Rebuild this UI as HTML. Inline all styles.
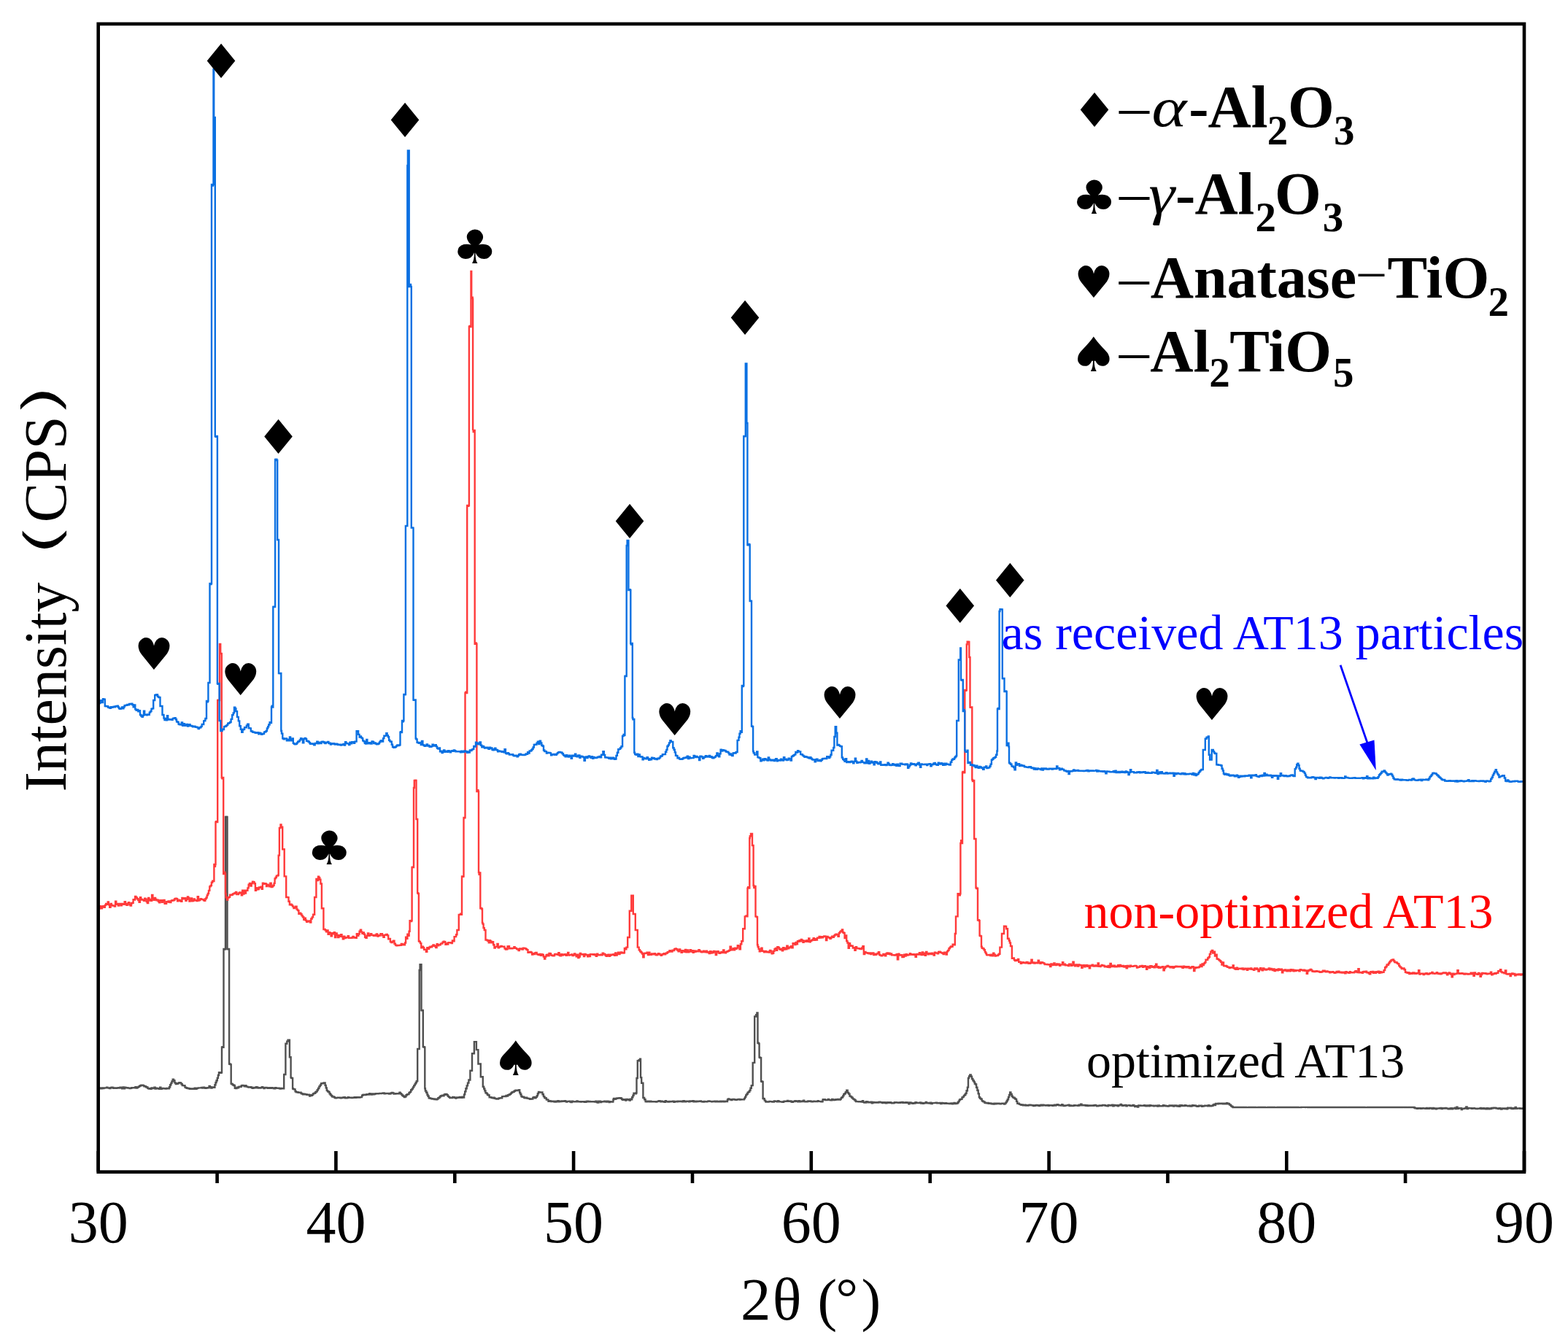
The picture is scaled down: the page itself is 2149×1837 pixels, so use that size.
<!DOCTYPE html>
<html><head><meta charset="utf-8"><title>XRD patterns of AT13</title>
<style>
html,body{margin:0;padding:0;background:#fff;}
svg{display:block;}
.sym{font-family:'DejaVu Sans',sans-serif;fill:#000;}
.t{font-family:'Liberation Serif','Times New Roman',serif;}
</style></head><body>
<svg width="2149" height="1837" viewBox="0 0 2149 1837">
<rect x="0" y="0" width="2149" height="1837" fill="#fff"/>

<path d="M135.0,1491.5L136.3,1491.5H137.0V1492.0H137.6H138.3V1492.3H138.9H139.6V1491.4H140.2H140.9V1492.0H141.6H142.2V1491.5H142.9H143.5V1491.4H144.2L145.5,1491.3H146.1V1490.8H146.8H147.4V1491.4H148.1H148.8V1491.5H149.4H150.1V1492.1H150.7H151.4V1491.3H152.0H152.7V1490.7H153.3H154.0V1490.9H154.7H155.3V1491.9H156.0H156.6V1491.6H157.3H157.9V1491.4H158.6H159.2V1491.9H159.9H160.5V1491.4H161.2H161.9V1491.1H162.5H163.2V1491.5H163.8H164.5V1490.8H165.1H165.8V1491.1H166.4H167.1V1492.3H167.8H168.4V1490.5H169.1H169.7V1492.2H170.4H171.0V1490.7H171.7H172.3V1491.4H173.0H173.6V1491.2H174.3H175.0V1491.5H175.6H176.3V1491.6H176.9H177.6V1492.1H178.2H178.9V1491.9H179.5H180.2V1491.3H180.9H181.5V1491.1H182.2H182.8V1491.1H183.5H184.1V1491.2H184.8H185.4V1490.3H186.1H186.7V1491.6H187.4H188.1V1490.9H188.8H189.4V1489.9H190.1H190.8V1489.0H191.5H192.2V1488.2H192.8H193.5V1487.8H194.2H194.8V1487.7H195.5H196.1V1488.1H196.7H197.4V1489.3H198.0L199.2,1489.3H199.9V1490.2H200.5H201.1V1490.5H201.8H202.4V1491.9H203.0H203.7V1492.6H204.3H204.9V1492.2H205.6H206.2V1492.7H206.9H207.5V1491.5H208.2H208.8V1492.0H209.5L210.8,1492.0H211.4V1490.7H212.0H212.7V1492.6H213.3H214.0V1491.8H214.6H215.3V1492.4H215.9H216.6V1492.2H217.2H217.9V1492.7H218.5H219.1V1490.8H219.8H220.4V1492.8H221.1H221.7V1492.4H222.4H223.0V1492.0H223.7H224.3V1492.2H224.9H225.6V1492.1H226.2H226.9V1492.5H227.5H228.2V1491.9H228.8H229.5V1492.0H230.1H230.8V1492.3H231.4H232.0V1490.3H232.6H233.2V1487.3H233.8H234.4V1484.9H234.9H235.5V1482.5H236.1H236.7V1479.7H237.3H238.0V1481.2H238.7H239.4V1484.4H240.1H240.8V1486.1H241.5H242.1V1485.7H242.8H243.4V1485.3H244.1H244.7V1484.5H245.3H246.0V1484.1H246.6H247.2V1484.6H247.9H248.5V1486.2H249.1H249.8V1488.0H250.4H251.0V1488.1H251.6H252.3V1488.3H252.9H253.5V1490.6H254.2H254.8V1491.2H255.4H256.1V1491.8H256.7H257.4V1492.0H258.0H258.7V1492.3H259.4H260.0V1492.8H260.7H261.4V1492.5H262.1H262.7V1492.8H263.4H264.1V1492.5H264.7H265.4V1492.9H266.1H266.7V1491.7H267.4H268.0V1492.7H268.7H269.4V1492.0H270.0H270.7V1491.6H271.4H272.0V1491.4H272.7H273.3V1491.4H274.0L275.3,1491.4H276.0V1490.9H276.7H277.3V1491.6H278.0H278.6V1490.7H279.3H280.0V1491.2H280.6H281.3V1491.9H282.0H282.6V1491.6H283.3H284.0V1491.1H284.6H285.3V1491.4H285.9H286.6V1489.0H287.3H287.9V1490.2H288.6H289.3V1491.6H289.9H290.6V1490.6H291.2H291.9V1490.5H292.6H293.2V1490.8H293.9H294.4V1487.2H295.0H295.5V1484.0H296.1H296.6V1481.3H297.2H297.8V1477.9H298.3H298.9V1474.0H299.5H300.0V1470.2H300.6H301.2V1470.6H301.7H302.3V1470.7H302.9H303.4V1470.4H304.0L304.0,1435.7H304.6V1435.2H305.2H305.9V1435.7H306.5L306.5,1301.0H307.1V1301.5H307.8H308.4V1301.0H309.0L309.0,1120.0H309.6V1119.7H310.2H310.9V1120.0H311.5L311.5,1301.0H312.1V1301.3H312.8H313.5V1301.0H314.1L314.1,1458.5H314.8V1458.8H315.4H316.0V1459.4H316.7L316.7,1485.6H317.4V1486.0H318.1H318.8V1487.2H319.5H320.2V1488.0H320.9H321.8V1491.9H322.6H323.2V1492.1H323.9H324.5V1490.6H325.1H325.8V1491.3H326.4H327.0V1490.0H327.6H328.3V1489.7H328.9L330.2,1489.7H330.8V1488.2H331.4H332.1V1488.0H332.7H333.4V1488.4H334.1H334.8V1489.2H335.5H336.2V1488.2H336.9H337.5V1489.6H338.2H338.9V1489.9H339.6H340.3V1490.6H341.0H341.7V1490.6H342.3H343.0V1490.1H343.6H344.3V1490.8H344.9H345.6V1491.9H346.3H346.9V1491.5H347.6H348.2V1490.9H348.9H349.6V1491.4H350.2H350.9V1490.2H351.5H352.2V1490.8H352.9H353.5V1491.6H354.2H354.8V1491.1H355.5H356.1V1491.5H356.8H357.5V1491.1H358.1H358.8V1490.3H359.4H360.1V1490.9H360.8H361.4V1492.1H362.1H362.7V1491.1H363.4H364.0V1491.0H364.7H365.4V1491.3H366.0H366.7V1491.8H367.3H368.0V1491.9H368.6H369.3V1491.2H370.0H370.6V1491.7H371.3H371.9V1491.1H372.6H373.3V1491.4H373.9H374.6V1492.1H375.2H375.9V1492.3H376.5H377.2V1491.2H377.9H378.5V1491.8H379.2H379.8V1491.6H380.5H381.2V1491.8H381.8H382.5V1492.0H383.1H383.8V1492.5H384.4H385.1V1491.9H385.8H386.4V1492.1H387.1H387.7V1492.3H388.4H389.2V1473.0H390.1H391.4V1430.7H392.7H393.3V1427.6H393.9H394.6V1425.6H395.2H396.9V1449.3H398.6L398.6,1477.1H399.2V1477.9H399.9H400.5V1478.0H401.1L401.1,1492.3H401.8V1493.0H402.5H403.2V1493.4H403.9H404.6V1496.3H405.3H406.0V1497.4H406.6H407.3V1497.1H407.9H408.6V1497.8H409.3H409.9V1497.7H410.6H411.2V1497.6H411.9H412.6V1499.0H413.2H413.9V1499.5H414.6H415.2V1500.2H415.9H416.5V1499.6H417.2H417.8V1500.4H418.5H419.1V1500.1H419.7H420.4V1500.8H421.0H421.6V1500.9H422.2H422.9V1500.7H423.5H424.1V1502.6H424.8H425.4V1501.3H426.0H426.7V1501.7H427.3H428.0V1500.6H428.6H429.3V1499.1H430.0H430.6V1498.7H431.3H432.0V1497.5H432.7H433.3V1496.4H434.0H434.7V1494.3H435.4H436.0V1492.0H436.7H437.4V1489.4H438.1H438.8V1487.5H439.4H440.1V1485.3H440.8H441.5V1485.4H442.2H442.9V1484.8H443.6H444.3V1484.4H445.0H445.6V1487.9H446.1H446.7V1491.4H447.3H447.8V1494.9H448.4H449.0V1496.2H449.7H450.3V1497.0H450.9H451.6V1499.3H452.2H452.8V1500.8H453.5H454.1V1502.3H454.7H455.4V1503.5H456.0L457.1,1503.5H457.7V1504.0H458.3H458.8V1505.1H459.4H460.0V1505.4H460.7H461.3V1504.9H462.0H462.6V1504.8H463.3H463.9V1504.6H464.5H465.2V1504.8H465.8H466.5V1505.2H467.1H467.8V1505.1H468.4H469.1V1504.8H469.7H470.3V1504.5H471.0H471.6V1504.3H472.3H472.9V1505.2H473.6L474.9,1505.2H475.5V1505.0H476.1H476.8V1504.2H477.4H478.1V1504.7H478.7L480.0,1504.7L481.3,1504.7H481.9V1505.1H482.6H483.2V1504.8H483.8H484.5V1504.9H485.1H485.7V1504.2H486.4H487.0V1504.9H487.6H488.3V1504.3H488.9H489.6V1504.1H490.2H490.8V1504.5H491.5H492.1V1504.6H492.8H493.4V1504.1H494.0L495.3,1504.1H496.0V1501.7H496.6H497.2V1501.0H497.9H498.5V1500.7H499.2H499.8V1501.1H500.4H501.1V1500.9H501.7H502.3V1500.2H503.0H503.6V1500.1H504.2H504.9V1500.6H505.5H506.1V1499.3H506.8H507.4V1499.9H508.0H508.7V1500.5H509.3H509.9V1499.4H510.6H511.2V1500.2H511.8H512.5V1500.0H513.1H513.7V1499.5H514.4H515.0V1499.3H515.6H516.3V1499.1H516.9H517.5V1499.4H518.2H518.8V1499.1H519.4H520.1V1499.0H520.7H521.4V1499.1H522.0H522.7V1498.9H523.3H524.0V1498.7H524.6H525.3V1498.4H525.9H526.6V1499.4H527.2H527.9V1498.9H528.5H529.2V1499.0H529.8H530.5V1498.9H531.1H531.8V1499.0H532.4H533.1V1499.6H533.7H534.4V1499.2H535.0H535.7V1498.5H536.4H537.0V1498.0H537.7H538.3V1498.5H539.0H539.6V1499.6H540.3L541.6,1499.5H542.2V1499.1H542.9H543.5V1499.4H544.2H544.8V1499.4H545.5H546.1V1499.2H546.8H547.4V1497.7H548.1H548.7V1499.3H549.4H550.0V1500.4H550.7H551.3V1501.8H552.0H552.6V1502.7H553.2H553.9V1504.1H554.5H555.2V1503.2H555.8H556.5V1501.2H557.2H557.9V1500.2H558.5H559.2V1500.1H559.9H560.5V1498.0H561.2H561.9V1496.9H562.6H563.2V1494.2H563.9H564.6V1492.6H565.3H566.0V1490.4H566.6H567.3V1488.1H568.0H568.6V1486.1H569.1H569.7V1484.2H570.3H570.8V1482.2H571.4H571.8V1482.0H572.2L572.2,1438.0H572.8V1438.1H573.5H574.1V1438.0H574.7L574.7,1330.0H575.6V1322.3H576.5L577.5,1322.3L577.5,1385.0H578.1V1385.2H578.6H579.2V1385.0H579.8L579.8,1435.0H580.4V1435.2H581.0H581.7V1435.7H582.3L582.3,1492.3H582.9V1495.5H583.6H584.2V1497.7H584.9H585.5V1500.8H586.0H586.5V1502.8H587.1H587.7V1505.2H588.2H588.8V1505.5H589.5H590.1V1505.9H590.8H591.4V1506.2H592.0H592.7V1506.5H593.3L594.6,1506.5H595.2V1507.1H595.9H596.5V1506.8H597.1H597.8V1507.4H598.4H599.1V1506.6H599.7H600.4V1505.2H601.1H601.8V1504.5H602.4H603.1V1503.0H603.8H604.4V1502.3H605.1H605.8V1501.8H606.5H607.1V1502.3H607.8H608.5V1500.8H609.2H609.9V1500.0H610.5H611.2V1500.0H611.9H612.5V1501.1H613.2H613.8V1502.9H614.5H615.1V1503.9H615.7H616.4V1505.0H617.0H617.7V1504.9H618.3H619.0V1505.1H619.6H620.3V1504.0H621.0H621.6V1504.1H622.3H622.9V1504.9H623.6H624.3V1505.6H624.9H625.6V1504.5H626.2H626.9V1504.8H627.6H628.2V1504.7H628.9H629.6V1504.0H630.2H630.9V1504.3H631.5H632.2V1504.8H632.9H633.5V1503.8H634.2H634.8V1504.6H635.5H636.1V1500.4H636.7H637.2V1496.4H637.8H638.4V1492.2H639.0H639.7V1488.4H640.4H641.0V1484.6H641.7H642.4V1480.5H643.1H644.4V1467.8H645.7H647.0V1444.2H648.2H649.9V1428.1H651.6H652.9V1439.1H654.1H655.4V1458.5H656.7H658.8V1476.3H660.9H661.8V1489.8H662.6H663.2V1492.5H663.7H664.3V1495.2H664.9H665.4V1498.1H666.0H666.7V1499.0H667.3H668.0V1500.7H668.7H669.4V1501.5H670.0H670.7V1504.2H671.4H672.0V1504.3H672.7H673.4V1504.9H674.1H674.8V1505.2H675.5H676.2V1504.8H676.9H677.6V1505.7H678.3H679.0V1506.1H679.7H680.4V1506.6H681.1L682.4,1506.6H683.0V1505.8H683.7H684.4V1505.4H685.0H685.7V1505.1H686.3H687.0V1505.3H687.6H688.2V1503.1H688.9L690.2,1503.1H690.9V1503.0H691.5H692.1V1503.1H692.8H693.5V1502.0H694.1H694.8V1502.6H695.4H696.0V1501.2H696.7H697.4V1500.8H698.0H698.6V1500.1H699.2H699.8V1499.0H700.4H701.0V1497.8H701.6H702.2V1497.1H702.9H703.5V1496.7H704.1H704.7V1495.7H705.3H705.9V1495.0H706.5H707.1V1494.8H707.8H708.4V1495.0H709.0H709.7V1494.6H710.3H711.0V1494.3H711.6H712.2V1498.0H712.7H713.3V1500.2H713.9H714.4V1503.0H715.0H715.7V1503.8H716.3H717.0V1503.6H717.6H718.3V1505.0H718.9H719.6V1505.4H720.2H720.9V1504.7H721.6H722.2V1505.6H722.9H723.5V1505.9H724.2H724.8V1506.1H725.5H726.1V1506.7H726.8H727.5V1506.5H728.2L729.6,1506.5H730.3V1504.8H731.0H731.7V1503.9H732.4H733.1V1505.2H733.8H734.5V1503.9H735.2H735.8V1502.1H736.3H736.9V1499.3H737.5H738.0V1497.0H738.6H739.3V1497.4H740.0H740.7V1497.5H741.4H742.1V1497.4H742.8H743.5V1500.3H744.2H744.9V1503.1H745.6H746.3V1505.0H747.0H747.6V1505.5H748.3H748.9V1507.5H749.5H750.2V1507.6H750.8H751.5V1509.7H752.1H752.7V1509.3H753.4H754.0V1509.4H754.7H755.3V1510.1H756.0H756.6V1509.7H757.3H757.9V1509.8H758.6H759.2V1510.3H759.9H760.5V1510.6H761.2H761.8V1509.7H762.5H763.1V1510.3H763.8H764.4V1509.1H765.1H765.7V1510.4H766.4H767.0V1509.7H767.7H768.3V1510.0H769.0H769.6V1509.5H770.3H770.9V1509.9H771.6L772.9,1509.9H773.5V1509.2H774.2H774.8V1509.8H775.5H776.1V1510.5H776.8H777.4V1510.0H778.1L779.4,1509.9H780.0V1509.6H780.7H781.3V1510.6H782.0H782.6V1511.1H783.3H783.9V1509.8H784.6H785.2V1510.1H785.9H786.5V1510.4H787.2H787.8V1510.4H788.5H789.1V1510.3H789.8H790.4V1509.5H791.1H791.7V1510.1H792.4H793.0V1510.2H793.7L795.0,1510.2H795.6V1510.5H796.2H796.9V1510.3H797.5H798.2V1510.1H798.8H799.5V1510.2H800.1H800.8V1510.8H801.4H802.1V1510.9H802.7H803.4V1510.0H804.0H804.7V1509.7H805.3H806.0V1510.3H806.6H807.3V1510.0H807.9H808.6V1510.3H809.2H809.9V1510.2H810.5L811.8,1510.1H812.5V1510.4H813.1H813.8V1510.2H814.4H815.1V1510.5H815.7H816.4V1509.8H817.0H817.7V1511.0H818.3H819.0V1511.6H819.6H820.3V1509.8H820.9H821.6V1509.7H822.2H822.9V1511.1H823.5H824.2V1510.3H824.8H825.5V1510.4H826.1L827.4,1510.4H828.1V1509.8H828.7H829.4V1509.9H830.0H830.7V1510.5H831.3H832.0V1509.6H832.6H833.3V1509.9H833.9H834.6V1511.1H835.2H835.9V1510.2H836.5H837.2V1510.4H837.8H838.5V1510.5H839.1H839.8V1510.4H840.4L840.4,1507.5H841.0V1506.0H841.7H842.3V1506.7H842.9H843.6V1506.4H844.2H844.8V1505.8H845.5H846.1V1505.5H846.7L848.0,1505.5H848.6V1505.1H849.2H849.9V1505.3H850.5H851.1V1505.7H851.7H852.2V1507.0H852.8H853.4V1507.9H854.0H854.6V1507.2H855.3H856.0V1507.2H856.6H857.2V1508.6H857.9H858.5V1506.9H859.2H859.9V1507.5H860.5H861.2V1507.3H861.8H862.5V1508.5H863.1H863.8V1506.7H864.4H865.1V1507.4H865.7H866.2V1504.2H866.8H867.4V1501.8H867.9H868.5V1498.6H869.0H869.6V1499.1H870.2H870.8V1499.2H871.3H871.9V1498.2H872.5L872.5,1478.0H873.8V1454.3H875.0H875.6V1453.3H876.3H877.0V1451.8H877.6H878.0V1477.1H878.4H879.2V1484.7H880.1H881.4V1505.0H882.6H883.2V1507.3H883.9H884.6V1510.1H885.2H885.8V1510.3H886.5H887.1V1509.7H887.8H888.4V1509.8H889.1H889.7V1510.3H890.4H891.0V1509.6H891.7H892.3V1510.4H893.0H893.6V1510.2H894.3H894.9V1510.2H895.6H896.2V1510.1H896.9L898.2,1510.1H898.8V1510.5H899.4H900.1V1510.1H900.7H901.4V1509.9H902.0H902.7V1509.3H903.3H904.0V1509.4H904.6H905.3V1510.2H905.9H906.6V1509.7H907.2H907.9V1510.3H908.5L909.8,1510.3H910.5V1510.7H911.1H911.8V1509.3H912.4H913.1V1510.1H913.7H914.3V1510.2H915.0H915.6V1510.5H916.3H916.9V1509.9H917.6H918.2V1510.3H918.9H919.5V1510.1H920.2H920.8V1509.9H921.5H922.1V1509.7H922.8H923.4V1510.7H924.1H924.7V1509.9H925.4L926.7,1509.9H927.3V1510.2H927.9H928.6V1509.8H929.2H929.9V1510.1H930.5H931.2V1510.0H931.8H932.5V1509.7H933.1H933.8V1510.0H934.4H935.1V1510.3H935.7H936.4V1509.3H937.0H937.7V1509.8H938.3H939.0V1510.4H939.6H940.3V1509.7H940.9H941.5V1509.8H942.2H942.8V1509.7H943.5H944.1V1510.4H944.8H945.4V1509.4H946.1H946.7V1509.7H947.4H948.0V1509.9H948.7H949.3V1509.2H950.0H950.6V1510.2H951.3H951.9V1509.8H952.6H953.2V1510.4H953.9H954.5V1509.8H955.1H955.8V1510.0H956.4H957.1V1509.6H957.7H958.4V1509.7H959.0H959.7V1509.4H960.3H961.0V1510.1H961.6H962.3V1510.3H962.9H963.6V1510.6H964.2H964.9V1509.9H965.5H966.2V1510.1H966.8H967.5V1510.2H968.1H968.8V1510.1H969.4H970.0V1509.6H970.7H971.3V1509.5H972.0H972.6V1509.9H973.3L974.6,1509.9H975.2V1510.4H975.9H976.5V1509.9H977.2H977.8V1510.0H978.5H979.1V1509.6H979.8H980.4V1510.2H981.1H981.7V1509.6H982.4H983.0V1510.0H983.6H984.3V1510.3H984.9L986.2,1510.3H986.9V1509.8H987.5H988.2V1510.3H988.8H989.5V1509.8H990.1L991.4,1509.8H992.1V1510.4H992.7H993.4V1510.1H994.0H994.7V1509.7H995.3H996.0V1510.0H996.6H997.0V1507.5H997.5H998.1V1506.5H998.8H999.4V1507.4H1000.1H1000.7V1507.2H1001.4H1002.0V1508.0H1002.7H1003.3V1507.2H1004.0H1004.6V1506.9H1005.3H1005.9V1507.3H1006.6H1007.2V1507.6H1007.9H1008.5V1507.8H1009.1H1009.8V1507.4H1010.4H1011.1V1507.2H1011.7H1012.4V1507.0H1013.0H1013.7V1507.5H1014.3H1015.0V1507.1H1015.6H1016.3V1507.4H1016.9H1017.6V1507.4H1018.2H1018.9V1507.4H1019.5H1020.0V1505.9H1020.6H1021.1V1503.9H1021.7H1022.2V1501.4H1022.8H1023.4V1499.8H1024.1H1024.7V1497.6H1025.3H1026.0V1496.7H1026.6H1027.3V1494.9H1027.9H1028.5V1491.7H1029.2H1029.8V1488.1H1030.4H1031.7V1456.9H1033.0H1034.2V1393.5H1035.5H1036.1V1391.2H1036.8H1037.4V1388.4H1038.0H1038.5V1429.8H1038.9H1039.8V1430.7H1040.6L1040.6,1449.3H1041.2V1450.0H1041.8H1042.5V1450.1H1043.1L1043.1,1482.2H1043.7V1482.8H1044.3H1045.0V1483.0H1045.6L1045.6,1505.8H1046.3V1506.2H1047.0H1047.8V1508.6H1048.5H1049.2V1510.2H1049.9H1050.5V1510.6H1051.2H1051.8V1510.5H1052.5H1053.1V1510.4H1053.8H1054.4V1510.0H1055.1H1055.7V1510.1H1056.4L1057.7,1510.1H1058.3V1510.6H1059.0H1059.6V1510.6H1060.3H1060.9V1509.5H1061.6H1062.2V1509.8H1062.9H1063.5V1509.9H1064.1H1064.8V1510.3H1065.4H1066.1V1509.3H1066.7H1067.4V1510.1H1068.0H1068.7V1510.4H1069.3L1070.6,1510.4H1071.3V1510.6H1071.9H1072.6V1510.9H1073.2H1073.9V1510.0H1074.5H1075.2V1509.8H1075.8L1077.1,1509.8L1078.4,1509.9H1079.0V1508.9H1079.7H1080.3V1509.9H1081.0L1082.3,1509.9H1082.9V1509.5H1083.6H1084.2V1510.3H1084.9H1085.5V1510.7H1086.2H1086.8V1510.0H1087.5H1088.1V1510.0H1088.8H1089.4V1509.2H1090.0H1090.7V1509.7H1091.3H1092.0V1509.4H1092.6H1093.3V1510.2H1093.9H1094.6V1509.3H1095.2H1095.9V1510.2H1096.5H1097.2V1509.8H1097.8H1098.5V1510.1H1099.1H1099.8V1509.5H1100.4H1101.1V1508.7H1101.7H1102.3V1510.1H1103.0H1103.6V1510.4H1104.3L1105.6,1510.4H1106.2V1510.0H1106.9H1107.5V1509.5H1108.2H1108.8V1509.7H1109.5H1110.1V1509.5H1110.8H1111.4V1510.1H1112.1H1112.7V1510.2H1113.4H1114.0V1509.9H1114.6H1115.3V1509.7H1115.9H1116.6V1510.0H1117.2H1117.9V1510.1H1118.5H1119.2V1510.1H1119.8H1120.5V1509.2H1121.1H1121.8V1509.9H1122.4L1123.7,1509.9H1124.4V1510.0H1125.0H1125.7V1510.2H1126.3H1127.0V1510.0H1127.6L1127.6,1507.5H1128.3V1507.1H1128.9H1129.6V1507.3H1130.2H1130.9V1508.0H1131.5L1132.8,1508.0H1133.5V1507.9H1134.2H1134.8V1507.0H1135.5H1136.1V1507.9H1136.8H1137.4V1508.0H1138.1H1138.7V1508.4H1139.4H1140.1V1507.0H1140.7H1141.4V1507.5H1142.0H1142.7V1508.0H1143.3H1144.0V1507.8H1144.6H1145.3V1507.2H1146.0H1146.6V1507.6H1147.3H1147.9V1506.9H1148.6H1149.2V1507.6H1149.9L1151.2,1507.5H1151.8V1506.6H1152.3H1152.9V1504.9H1153.5H1154.0V1504.2H1154.6H1155.2V1502.4H1155.7H1156.3V1500.2H1156.9H1157.4V1499.2H1158.0H1158.8V1497.1H1159.5H1160.2V1494.8H1161.0H1161.7V1498.0H1162.4H1163.1V1499.6H1163.8H1164.5V1502.6H1165.2H1165.9V1503.4H1166.6H1167.3V1504.8H1168.0H1168.7V1506.4H1169.4H1170.1V1507.1H1170.8H1171.5V1508.5H1172.2H1172.9V1510.0H1173.6H1174.2V1510.1H1174.9L1176.1,1510.2H1176.8V1510.1H1177.4H1178.1V1510.3H1178.7H1179.3V1510.1H1180.0H1180.6V1510.6H1181.2H1181.9V1509.2H1182.5H1183.2V1510.9H1183.8H1184.4V1511.5H1185.1H1185.7V1511.6H1186.4H1187.0V1510.2H1187.7H1188.3V1510.5H1189.0H1189.6V1511.4H1190.3H1190.9V1510.9H1191.6H1192.2V1511.3H1192.9H1193.5V1510.8H1194.2H1194.8V1512.4H1195.5H1196.1V1511.0H1196.7H1197.4V1511.5H1198.0H1198.7V1511.1H1199.3H1200.0V1511.2H1200.6H1201.3V1511.5H1201.9L1203.2,1511.5H1203.9V1511.0H1204.5H1205.2V1510.8H1205.8H1206.5V1511.2H1207.1H1207.8V1511.1H1208.4H1209.1V1512.1H1209.7H1210.3V1511.4H1211.0H1211.6V1511.2H1212.3H1212.9V1512.0H1213.6H1214.2V1512.3H1214.9H1215.5V1511.2H1216.2H1216.8V1511.3H1217.5H1218.1V1511.7H1218.8H1219.4V1511.3H1220.1H1220.7V1511.7H1221.4H1222.0V1512.3H1222.6H1223.3V1512.2H1223.9H1224.6V1512.0H1225.2H1225.9V1511.2H1226.5H1227.2V1511.1H1227.8H1228.5V1511.5H1229.1H1229.8V1511.5H1230.4H1231.1V1511.8H1231.7H1232.4V1511.9H1233.0H1233.7V1511.2H1234.3H1235.0V1511.5H1235.6H1236.2V1511.0H1236.9H1237.5V1511.7H1238.2H1238.8V1511.5H1239.5H1240.1V1511.7H1240.8H1241.4V1511.3H1242.1H1242.7V1511.8H1243.4H1244.0V1511.5H1244.7H1245.3V1513.2H1246.0H1246.6V1511.4H1247.3H1247.9V1511.8H1248.5H1249.2V1512.3H1249.8H1250.5V1512.9H1251.1H1251.8V1512.2H1252.4H1253.1V1512.5H1253.7H1254.4V1511.1H1255.0H1255.7V1511.7H1256.3H1257.0V1512.1H1257.6H1258.3V1511.9H1258.9L1260.2,1512.0H1260.8V1511.5H1261.5H1262.1V1512.6H1262.8H1263.4V1512.0H1264.1H1264.7V1512.8H1265.4H1266.0V1512.4H1266.7H1267.3V1512.2H1268.0H1268.6V1511.0H1269.3H1269.9V1511.9H1270.6H1271.2V1512.2H1271.9H1272.5V1511.9H1273.2H1273.8V1512.5H1274.4H1275.1V1511.7H1275.7H1276.4V1513.1H1277.0H1277.7V1512.1H1278.3L1279.6,1512.1L1280.9,1512.1H1281.6V1511.9H1282.2H1282.9V1511.7H1283.5H1284.2V1512.4H1284.8H1285.5V1512.2H1286.1L1287.4,1512.2H1288.0V1511.9H1288.7H1289.3V1513.0H1290.0H1290.6V1512.0H1291.3H1291.9V1512.3H1292.6H1293.2V1512.6H1293.9H1294.5V1512.7H1295.2H1295.8V1512.3H1296.5H1297.1V1512.8H1297.8L1299.1,1512.8H1299.7V1512.7H1300.3H1301.0V1513.0H1301.6H1302.3V1512.7H1302.9H1303.6V1512.5H1304.2H1304.9V1513.4H1305.5H1306.2V1512.6H1306.8H1307.5V1511.9H1308.1H1308.8V1513.1H1309.4H1310.1V1512.9H1310.7H1311.4V1512.5H1312.0H1312.6V1511.3H1313.2H1313.8V1509.6H1314.3H1314.9V1507.8H1315.5H1316.1V1507.0H1316.7L1317.9,1506.9H1318.5V1504.4H1319.1H1319.8V1503.6H1320.4H1321.0V1501.9H1321.6H1322.2V1500.8H1322.8H1323.4V1498.9H1324.0H1324.6V1495.3H1325.2H1325.9V1490.6H1326.5H1327.0V1478.0H1327.4H1328.1V1475.4H1328.7H1329.3V1473.5H1330.0H1330.7V1475.8H1331.4H1332.0V1479.0H1332.7H1333.4V1481.2H1334.1H1334.7V1483.1H1335.2H1335.8V1485.5H1336.4H1336.9V1486.5H1337.5H1338.1V1490.8H1338.8H1339.4V1494.8H1340.0H1340.7V1499.4H1341.3H1341.9V1504.3H1342.6H1343.2V1505.9H1343.8H1344.5V1506.7H1345.1H1345.7V1509.1H1346.3H1347.0V1510.0H1347.6H1348.2V1510.4H1348.9H1349.5V1511.8H1350.2H1350.8V1512.0H1351.4H1352.1V1512.4H1352.7H1353.4V1512.0H1354.0H1354.7V1512.8H1355.4H1356.0V1512.5H1356.7H1357.4V1512.6H1358.0H1358.7V1513.4H1359.4H1360.0V1513.0H1360.7H1361.4V1513.6H1362.0H1362.7V1512.7H1363.4H1364.0V1513.2H1364.7H1365.3V1512.8H1366.0H1366.7V1513.0H1367.3H1368.0V1512.8H1368.7H1369.3V1513.0H1370.0H1370.7V1513.4H1371.3H1372.0V1512.9H1372.7H1373.3V1512.6H1374.0H1374.7V1512.7H1375.3H1376.0V1513.6H1376.7H1377.3V1512.6H1378.0H1378.6V1511.1H1379.1H1379.7V1509.2H1380.3H1380.8V1507.3H1381.4H1382.0V1504.1H1382.5H1383.1V1501.0H1383.7H1384.2V1497.4H1384.8H1385.4V1499.9H1386.0H1386.7V1502.8H1387.3H1387.9V1504.4H1388.6H1389.2V1504.7H1389.8H1390.5V1506.0H1391.1H1391.8V1506.9H1392.4H1393.1V1509.9H1393.7H1394.3V1512.8H1395.0H1395.6V1512.8H1396.2H1396.9V1513.9H1397.5H1398.1V1514.1H1398.8H1399.4V1514.8H1400.0H1400.6V1514.5H1401.3H1401.9V1515.2H1402.6H1403.2V1515.3H1403.9H1404.5V1514.8H1405.2H1405.8V1515.5H1406.5H1407.1V1515.3H1407.8H1408.4V1515.6H1409.1H1409.7V1514.9H1410.4H1411.0V1514.8H1411.7H1412.3V1515.0H1413.0H1413.6V1515.4H1414.3H1414.9V1515.1H1415.6H1416.2V1516.0H1416.9H1417.5V1515.8H1418.2H1418.8V1515.2H1419.5H1420.1V1514.9H1420.8H1421.4V1515.6H1422.1H1422.7V1515.1H1423.4H1424.0V1516.0H1424.7H1425.3V1515.1H1426.0H1426.6V1514.7H1427.3H1427.9V1515.6H1428.6H1429.2V1514.6H1429.9H1430.5V1515.2H1431.2H1431.8V1515.1H1432.5H1433.1V1515.6H1433.8H1434.4V1515.3H1435.1H1435.7V1514.9H1436.4H1437.0V1515.9H1437.7H1438.3V1515.1H1439.0H1439.6V1515.3H1440.3H1440.9V1515.2H1441.6H1442.2V1515.9H1442.9H1443.5V1515.6H1444.2H1444.8V1514.8H1445.5H1446.1V1515.5H1446.8H1447.4V1514.8H1448.1H1448.7V1514.2H1449.4H1450.0V1514.7H1450.6H1451.3V1515.2H1451.9L1453.2,1515.1H1453.9V1515.6H1454.5H1455.2V1514.1H1455.8H1456.5V1515.5H1457.1H1457.8V1516.0H1458.4H1459.1V1515.9H1459.7H1460.4V1515.5H1461.0L1462.3,1515.4H1463.0V1515.1H1463.6H1464.3V1514.8H1464.9H1465.6V1516.0H1466.2H1466.9V1515.4H1467.5H1468.2V1515.9H1468.8H1469.5V1516.1H1470.1H1470.8V1515.7H1471.4H1472.1V1515.3H1472.7H1473.4V1515.5H1474.0H1474.7V1515.6H1475.3H1476.0V1515.4H1476.6H1477.3V1515.9H1477.9H1478.6V1514.8H1479.2H1479.9V1515.2H1480.5H1481.2V1513.8H1481.8H1482.5V1515.1H1483.1H1483.8V1515.4H1484.4H1485.1V1515.0H1485.7L1487.0,1515.0H1487.7V1515.8H1488.3H1489.0V1515.1H1489.6H1490.3V1516.0H1490.9H1491.6V1515.7H1492.2H1492.9V1515.5H1493.5H1494.2V1515.9H1494.8H1495.5V1515.6H1496.1H1496.8V1515.4H1497.4H1498.1V1515.8H1498.7H1499.4V1515.1H1500.0H1500.6V1514.9H1501.3H1501.9V1515.6H1502.6H1503.2V1516.2H1503.9H1504.5V1516.0H1505.2H1505.8V1515.8H1506.5H1507.1V1515.4H1507.8H1508.4V1515.8H1509.1H1509.7V1515.6H1510.4H1511.0V1515.0H1511.7L1513.0,1515.0H1513.6V1515.3H1514.3H1514.9V1515.8H1515.6L1516.8,1515.7H1517.5V1516.2H1518.1H1518.8V1515.0H1519.4H1520.1V1515.4H1520.7H1521.4V1515.5H1522.0H1522.7V1515.3H1523.3H1524.0V1514.8H1524.6H1525.3V1516.2H1525.9H1526.6V1514.9H1527.2H1527.9V1515.5H1528.5H1529.2V1515.1H1529.8H1530.5V1515.5H1531.1H1531.8V1516.2H1532.4H1533.0V1515.2H1533.7H1534.3V1515.4H1535.0H1535.6V1513.9H1536.3H1536.9V1515.0H1537.6H1538.2V1515.8H1538.9H1539.5V1515.6H1540.2H1540.8V1515.1H1541.5H1542.1V1514.9H1542.8H1543.4V1516.3H1544.1H1544.7V1515.4H1545.4L1546.7,1515.4H1547.3V1515.3H1548.0H1548.6V1515.9H1549.2H1549.9V1516.1H1550.5H1551.2V1515.7H1551.8H1552.5V1514.9H1553.1H1553.8V1515.8H1554.4H1555.1V1517.0H1555.7H1556.4V1516.1H1557.0H1557.7V1516.2H1558.3H1559.0V1517.5H1559.6H1560.3V1515.4H1560.9L1562.2,1515.4H1562.9V1515.7H1563.5L1564.8,1515.7H1565.4V1515.9H1566.1L1567.4,1515.9H1568.0V1515.3H1568.7H1569.3V1516.1H1570.0H1570.6V1516.4H1571.3H1571.9V1515.5H1572.6L1573.9,1515.5H1574.5V1516.3H1575.2H1575.8V1515.1H1576.5H1577.1V1515.8H1577.8H1578.4V1515.9H1579.1H1579.7V1515.7H1580.3H1581.0V1516.4H1581.6H1582.3V1516.1H1582.9H1583.6V1515.7H1584.2L1585.5,1515.7H1586.2V1516.5H1586.8H1587.5V1515.4H1588.1H1588.8V1516.2H1589.4H1590.1V1516.3H1590.7L1592.0,1516.4H1592.7V1516.3H1593.3H1594.0V1515.3H1594.6H1595.3V1516.0H1595.9H1596.5V1515.6H1597.2H1597.8V1516.2H1598.5L1599.8,1516.2H1600.4V1516.5H1601.1H1601.7V1516.0H1602.4H1603.0V1515.5H1603.7H1604.3V1516.1H1605.0H1605.6V1515.5H1606.3H1606.9V1516.0H1607.6H1608.2V1516.6H1608.9H1609.5V1515.5H1610.2L1611.5,1515.5H1612.1V1516.1H1612.7H1613.4V1516.5H1614.0H1614.7V1515.8H1615.3H1616.0V1516.7H1616.6H1617.3V1515.3H1617.9L1619.2,1515.3H1619.9V1516.1H1620.5H1621.2V1515.8H1621.8H1622.5V1516.1H1623.1H1623.8V1515.2H1624.4H1625.1V1515.8H1625.7H1626.4V1515.9H1627.0H1627.7V1516.3H1628.3H1628.9V1516.0H1629.6H1630.2V1515.7H1630.9H1631.5V1516.6H1632.2H1632.8V1516.4H1633.5H1634.1V1515.3H1634.8H1635.4V1515.7H1636.1H1636.7V1515.4H1637.4H1638.0V1515.8H1638.7H1639.3V1516.2H1640.0H1640.6V1516.8H1641.3H1641.9V1516.6H1642.6H1643.2V1515.8H1643.9H1644.5V1516.1H1645.1H1645.8V1515.8H1646.4H1647.1V1516.8H1647.7H1648.4V1516.2H1649.0H1649.7V1516.4H1650.3H1651.0V1515.6H1651.6H1652.3V1515.9H1652.9H1653.6V1515.8H1654.2H1654.9V1516.3H1655.5H1656.2V1515.3H1656.8H1657.5V1516.4H1658.1H1658.8V1516.2H1659.4H1660.1V1516.0H1660.7H1661.3V1515.8H1661.9H1662.5V1514.8H1663.1H1663.7V1514.0H1664.2H1664.8V1515.1H1665.4H1666.0V1512.9H1666.6H1667.2V1513.0H1667.9H1668.5V1513.3H1669.1H1669.8V1512.6H1670.4H1671.0V1513.0H1671.7H1672.3V1512.9H1672.9H1673.6V1512.7H1674.2H1674.8V1513.0H1675.4H1676.1V1513.3H1676.7H1677.3V1512.8H1678.0H1678.6V1513.2H1679.2L1680.5,1513.2H1681.1V1512.1H1681.8H1682.4V1513.4H1683.0H1683.7V1513.0H1684.3H1684.9V1514.4H1685.5H1686.1V1515.0H1686.7H1687.2V1516.4H1687.8H1688.4V1517.0H1689.0H1689.6V1518.0H1690.2L1691.5,1517.9H1692.2V1518.0H1692.8L1694.1,1518.0L1695.4,1518.0L1696.7,1518.0H1697.4V1518.0H1698.0L1699.3,1517.9H1700.0V1518.1H1700.6H1701.3V1518.0H1701.9L1703.2,1518.0H1703.9V1518.1H1704.5L1705.8,1518.0H1706.5V1518.0H1707.1H1707.8V1518.0H1708.4L1709.7,1518.1L1711.0,1518.0L1712.3,1518.0H1713.0V1518.1H1713.6H1714.3V1518.0H1714.9L1716.2,1518.0L1717.5,1518.0H1718.2V1518.0H1718.8H1719.5V1518.0H1720.1L1721.4,1518.0L1722.7,1518.1L1724.0,1518.0H1724.7V1518.1H1725.3H1726.0V1517.9H1726.6L1727.9,1518.0L1729.2,1518.0L1730.5,1518.0L1731.9,1518.0H1732.5V1518.0H1733.2H1733.8V1518.1H1734.5L1735.8,1518.1L1737.1,1518.0H1737.7V1517.9H1738.4H1739.0V1518.0H1739.7L1741.0,1518.0H1741.6V1518.0H1742.3L1743.6,1518.0L1744.9,1518.0L1746.2,1517.9H1746.8V1518.0H1747.5L1748.8,1518.1L1750.1,1518.0H1750.7V1518.0H1751.4L1752.7,1518.0L1754.0,1518.0H1754.6V1518.1H1755.3H1755.9V1518.0H1756.6L1757.9,1518.0L1759.2,1518.0H1759.8V1518.1H1760.5H1761.1V1518.0H1761.8H1762.4V1518.0H1763.1L1764.4,1518.0L1765.7,1518.0H1766.3V1517.9H1767.0H1767.6V1518.0H1768.3H1768.9V1518.1H1769.6L1770.9,1518.0H1771.5V1518.0H1772.2H1772.9V1518.1H1773.5H1774.2V1518.0H1774.8L1776.1,1518.0L1777.4,1518.0L1778.7,1518.0H1779.4V1518.1H1780.0L1781.3,1518.1L1782.6,1518.1H1783.3V1518.0H1783.9L1785.2,1517.9L1786.5,1517.9L1787.8,1517.9L1789.1,1518.0L1790.4,1517.9L1791.7,1517.9H1792.4V1518.0H1793.0H1793.7V1518.0H1794.3L1795.6,1518.0L1796.9,1518.1H1797.6V1518.0H1798.2L1799.5,1518.0H1800.2V1518.1H1800.8H1801.5V1517.9H1802.1H1802.8V1518.0H1803.4L1804.7,1517.9L1806.0,1518.0L1807.3,1518.0L1808.6,1518.0L1809.9,1518.0H1810.6V1518.1H1811.2H1811.9V1518.0H1812.5L1813.8,1518.0L1815.2,1518.0H1815.8V1518.0H1816.5L1817.8,1518.0L1819.1,1518.0L1820.4,1518.0H1821.0V1518.0H1821.7H1822.3V1518.0H1823.0L1824.3,1517.9H1824.9V1518.0H1825.6H1826.2V1518.0H1826.9L1828.2,1518.0L1829.5,1518.0H1830.1V1518.1H1830.8L1832.1,1518.0L1833.4,1518.0L1834.7,1518.0L1836.0,1518.0H1836.6V1518.1H1837.3L1838.6,1518.0H1839.2V1518.0H1839.9H1840.5V1518.0H1841.2H1841.8V1517.9H1842.5L1843.8,1518.0L1845.1,1518.0H1845.7V1518.1H1846.4L1847.7,1518.1H1848.3V1518.0H1849.0L1850.3,1518.0H1850.9V1518.1H1851.6H1852.2V1518.0H1852.9H1853.5V1518.1H1854.2H1854.8V1518.0H1855.5H1856.2V1518.0H1856.8H1857.5V1518.0H1858.1H1858.8V1518.1H1859.4H1860.1V1518.0H1860.7L1862.0,1518.0L1863.3,1518.0H1864.0V1517.9H1864.6H1865.3V1518.0H1865.9L1867.2,1518.0H1867.9V1518.1H1868.5H1869.2V1517.9H1869.8H1870.5V1518.1H1871.1L1872.4,1518.1L1873.7,1518.0H1874.4V1518.0H1875.0L1876.3,1518.0L1877.6,1518.0H1878.3V1518.0H1878.9H1879.6V1517.9H1880.2L1881.5,1518.0L1882.8,1518.0L1884.1,1518.0L1885.4,1517.9H1886.1V1518.0H1886.7L1888.0,1518.0L1889.3,1518.0L1890.6,1518.0H1891.3V1518.1H1891.9H1892.6V1518.0H1893.2H1893.9V1518.1H1894.5H1895.2V1517.9H1895.8H1896.5V1518.0H1897.2L1898.5,1518.0H1899.1V1518.1H1899.8H1900.4V1518.0H1901.1H1901.7V1518.1H1902.4H1903.0V1518.0H1903.7L1905.0,1518.0H1905.6V1517.9H1906.3H1906.9V1518.0H1907.6H1908.2V1518.0H1908.9H1909.5V1518.0H1910.2L1911.5,1518.0L1912.8,1518.0L1914.1,1518.0L1915.4,1518.0L1916.7,1518.0L1918.0,1518.0L1919.3,1518.0H1919.9V1518.0H1920.6H1921.2V1518.0H1921.9H1922.5V1517.9H1923.2L1924.5,1517.9H1925.1V1518.0H1925.8L1927.1,1518.0H1927.7V1518.1H1928.4L1929.7,1518.1H1930.3V1518.0H1931.0L1932.3,1517.9H1932.9V1518.0H1933.6L1934.9,1518.0L1936.2,1518.0H1936.8V1517.9H1937.5H1938.1V1518.5H1938.8H1939.4V1519.3H1940.0H1940.6V1519.4H1941.3H1941.9V1519.8H1942.6H1943.2V1519.3H1943.9H1944.5V1519.6H1945.2H1945.8V1519.1H1946.5H1947.1V1519.9H1947.8H1948.4V1519.6H1949.1H1949.7V1519.2H1950.4H1951.0V1519.4H1951.7H1952.3V1519.5H1952.9H1953.6V1519.9H1954.2H1954.9V1519.0H1955.5H1956.2V1519.9H1956.8L1958.1,1519.9H1958.8V1518.9H1959.4H1960.1V1519.0H1960.7H1961.4V1519.6H1962.0H1962.7V1520.1H1963.3H1964.0V1519.0H1964.6H1965.2V1519.9H1965.9H1966.5V1519.5H1967.2H1967.8V1520.4H1968.5H1969.1V1519.6H1969.8H1970.4V1519.5H1971.1H1971.7V1519.5H1972.4H1973.0V1519.2H1973.7H1974.3V1519.0H1975.0H1975.6V1520.1H1976.3H1976.9V1519.3H1977.5H1978.2V1519.1H1978.8H1979.5V1519.5H1980.1H1980.8V1519.0H1981.4H1982.1V1519.5H1982.7H1983.4V1519.6H1984.0H1984.7V1520.4H1985.3H1986.0V1520.2H1986.6H1987.3V1519.5H1987.9H1988.6V1519.2H1989.2H1989.8V1520.2H1990.5H1991.1V1519.4H1991.8H1992.4V1519.6H1993.1H1993.7V1518.8H1994.4H1995.0V1520.0H1995.7H1996.3V1517.7H1997.0H1997.6V1519.9H1998.3H1998.9V1519.4H1999.6H2000.2V1519.2H2000.9H2001.5V1519.3H2002.1H2002.8V1521.1H2003.4H2004.1V1519.7H2004.7L2006.0,1519.7H2006.7V1519.6H2007.3H2008.0V1519.3H2008.6H2009.3V1517.5H2009.9H2010.6V1520.0H2011.2H2011.9V1518.9H2012.5H2013.2V1519.3H2013.8H2014.4V1519.4H2015.1H2015.7V1519.3H2016.4H2017.0V1519.9H2017.7H2018.3V1519.6H2019.0H2019.6V1519.1H2020.3H2020.9V1519.6H2021.6H2022.2V1519.7H2022.9H2023.5V1520.0H2024.2H2024.8V1519.7H2025.5H2026.1V1519.9H2026.7H2027.4V1519.6H2028.0H2028.7V1519.0H2029.3H2030.0V1520.1H2030.6H2031.3V1519.7H2031.9H2032.6V1519.2H2033.2H2033.9V1520.1H2034.5H2035.2V1519.5H2035.8H2036.5V1520.3H2037.1H2037.8V1519.3H2038.4H2039.0V1519.4H2039.7H2040.3V1520.2H2041.0H2041.6V1519.4H2042.3H2042.9V1520.1H2043.6H2044.2V1518.9H2044.9H2045.5V1519.4H2046.2H2046.8V1518.8H2047.5L2048.8,1518.8H2049.4V1519.0H2050.1H2050.7V1519.5H2051.3H2052.0V1519.6H2052.6H2053.3V1520.0H2053.9H2054.6V1519.1H2055.2H2055.9V1519.6H2056.5H2057.2V1520.6H2057.8H2058.5V1519.4H2059.1H2059.8V1519.7H2060.4H2061.1V1519.4H2061.7H2062.4V1520.0H2063.0H2063.6V1519.4H2064.3H2064.9V1520.4H2065.6H2066.2V1518.7H2066.9H2067.5V1519.2H2068.2H2068.8V1519.4H2069.5H2070.1V1518.8H2070.8H2071.4V1519.8H2072.1H2072.7V1520.0H2073.4H2074.0V1519.3H2074.7H2075.3V1519.8H2075.9H2076.6V1518.0H2077.2H2077.9V1519.9H2078.5H2079.2V1519.5H2079.8H2080.5V1519.4H2081.1L2082.4,1519.3H2083.1V1519.9H2083.7H2084.4V1519.8H2085.0H2085.7V1519.5H2086.3L2087.6,1519.5" fill="none" stroke="#505050" stroke-width="2.4" stroke-linejoin="miter" stroke-miterlimit="2"/>
<path d="M134.2,1247.0H134.9V1245.8H135.6H136.3V1242.3H137.0H137.6V1244.3H138.2H138.8V1245.2H139.4H140.0V1242.4H140.6H141.2V1242.3H141.8H142.5V1243.9H143.1H143.8V1241.0H144.4H145.1V1238.9H145.7H146.3V1239.9H147.0H147.7V1236.4H148.3H148.9V1240.2H149.6H150.2V1243.7H150.9H151.6V1238.9H152.2H152.8V1241.0H153.5H154.2V1241.5H154.8H155.4V1241.6H156.1H156.8V1242.6H157.4H158.1V1235.7H158.7H159.3V1239.8H160.0H160.6V1239.0H161.2H161.9V1241.6H162.5H163.1V1238.9H163.8H164.4V1239.1H165.0H165.6V1241.4H166.2H166.9V1239.0H167.5H168.1V1239.3H168.8H169.4V1239.8H170.0H170.7V1236.1H171.3H172.0V1239.0H172.7H173.3V1240.7H174.0H174.7V1238.6H175.3H176.0V1237.2H176.7H177.4V1240.4H178.0H178.7V1241.6H179.4H180.0V1238.2H180.7H181.3V1237.8H181.9H182.6V1233.1H183.2H183.8V1233.6H184.4H185.1V1228.9H185.7H186.4V1230.4H187.1H187.8V1232.2H188.6H189.3V1234.0H190.0H190.6V1236.7H191.3H191.9V1230.3H192.5H193.2V1232.7H193.8H194.4V1233.5H195.1L196.3,1233.4H197.0V1234.9H197.6H198.2V1231.8H198.8H199.5V1232.8H200.1H200.7V1236.1H201.3H201.9V1238.0H202.6H203.2V1231.0H203.8H204.4V1233.0H205.0H205.7V1234.5H206.3H206.9V1234.8H207.5H208.1V1227.0H208.8H209.4V1232.0H210.0H210.6V1233.7H211.2H211.9V1231.0H212.5H213.1V1232.9H213.8H214.4V1234.3H215.0H215.6V1233.6H216.2H216.9V1235.9H217.5H218.1V1237.3H218.8H219.4V1234.1H220.0H220.6V1234.1H221.2H221.9V1236.7H222.5H223.1V1234.5H223.8H224.4V1233.9H225.0H225.6V1238.9H226.2H226.9V1238.7H227.5H228.1V1236.2H228.8H229.4V1236.6H230.0H230.6V1235.4H231.2H231.9V1236.9H232.5H233.1V1237.1H233.8H234.4V1234.9H235.0H235.6V1234.1H236.2H236.9V1234.6H237.5H238.1V1233.8H238.8H239.4V1232.3H240.0H240.6V1231.7H241.2H241.9V1232.2H242.5H243.1V1235.4H243.8H244.4V1233.6H245.0H245.6V1234.1H246.2H246.9V1235.1H247.5H248.1V1235.9H248.8H249.4V1231.0H250.0H250.6V1231.8H251.2H251.9V1232.3H252.5H253.1V1231.2H253.8H254.4V1234.8H255.0H255.6V1232.9H256.2H256.9V1229.4H257.5H258.1V1231.0H258.8H259.4V1235.6H260.0H260.6V1233.7H261.2H261.9V1231.5H262.5H263.1V1235.3H263.8H264.4V1234.7H265.0H265.6V1232.4H266.2H266.9V1234.3H267.5H268.1V1234.2H268.8H269.4V1235.1H270.0H270.7V1229.2H271.3H272.0V1234.5H272.7H273.3V1233.5H274.0H274.7V1232.2H275.3H276.0V1232.9H276.7L278.0,1232.9H278.7V1234.1H279.3H280.0V1234.9H280.7H281.3V1232.2H282.0H282.6V1230.5H283.1H283.7V1227.4H284.3H284.8V1225.0H285.4H286.0V1220.9H286.7H287.3V1215.4H287.9H288.6V1214.0H289.2H289.9V1209.8H290.5H291.2V1207.6H291.9H292.7V1208.0H293.4L293.4,1185.0H293.9V1187.9H294.4H295.0V1185.0H295.5L295.5,1127.0H296.2V1126.1H296.9H297.5V1127.0H298.2L298.2,960.0H298.9V959.6H299.6H300.3V960.0H301.0L301.0,883.0L302.2,883.0L302.2,896.0L303.8,896.0L303.8,1066.0H304.4V1067.2H305.0H305.6V1066.0H306.2L306.2,1198.0H306.9V1195.7H307.6H308.3V1198.0H309.0L309.0,1225.0H309.6V1230.3H310.3H311.0V1233.6H311.6H312.3V1230.5H313.0H313.7V1229.9H314.4H315.1V1226.7H315.8H316.5V1227.1H317.1H317.8V1226.5H318.4H319.1V1225.4H319.7H320.4V1225.0H321.1H321.7V1224.3H322.4H323.0V1223.0H323.7H324.3V1226.0H325.0H325.6V1226.1H326.3H326.9V1224.5H327.6H328.2V1223.4H328.9H329.5V1223.7H330.1H330.8V1227.2H331.4H332.1V1220.6H332.7H333.3V1225.6H333.9H334.5V1220.7H335.1H335.7V1224.5H336.4H337.0V1220.6H337.6H338.2V1220.7H338.8H339.4V1217.4H340.0H340.7V1212.8H341.3H342.0V1211.0H342.7H343.3V1214.6H344.0H344.7V1211.0H345.3H346.0V1208.8H346.7H347.3V1209.1H348.0H348.6V1211.2H349.2H349.9V1220.8H350.5H351.1V1217.1H351.8H352.4V1219.4H353.0H353.6V1219.0H354.2H354.9V1216.5H355.5H356.1V1216.9H356.8H357.4V1215.6H358.0H358.6V1218.8H359.2H359.9V1210.8H360.5H361.1V1211.9H361.8H362.4V1211.3H363.0H363.7V1211.4H364.3H365.0V1215.1H365.7H366.3V1212.7H367.0H367.7V1213.9H368.3H369.0V1215.2H369.7H370.3V1210.7H371.0H371.7V1216.0H372.3H373.0V1215.2H373.7H374.3V1213.7H375.0H375.6V1210.9H376.1H376.6V1204.4H377.2H377.8V1202.8H378.3H378.9V1200.6H379.4H380.0V1200.5H380.6H381.1V1199.7H381.7L381.7,1172.6H382.9V1135.0H384.0H384.5V1130.4H385.0H385.5V1133.8H386.0H387.2V1164.2H388.4H389.7V1201.4H391.0H392.2V1230.0H393.5H394.2V1230.1H394.9H395.5V1235.7H396.2H396.9V1240.2H397.6H398.3V1239.8H398.9H399.6V1240.9H400.3H401.0V1242.6H401.7H402.4V1245.1H403.1H403.8V1244.2H404.5H405.2V1242.7H405.9H406.6V1246.6H407.3H408.0V1248.1H408.7H409.4V1252.9H410.1H410.8V1251.6H411.5H412.2V1253.2H412.9H413.5V1255.4H414.2H414.9V1257.3H415.6H416.3V1260.9H417.0H417.6V1258.7H418.2H418.8V1261.7H419.5H420.1V1263.8H420.7H421.3V1263.2H421.9H422.5V1262.7H423.1H423.8V1262.4H424.4H425.0V1264.6H425.6H426.3V1259.5H427.0H427.7V1257.4H428.4H429.1V1253.7H429.8H431.1V1230.0H432.4H433.4V1205.0H434.5H435.0V1207.0H435.5H436.0V1201.6H436.5H437.1V1203.3H437.7H438.2V1205.7H438.8H439.4V1211.5H440.0H440.9V1245.3H441.7H443.4V1274.0H445.0H445.7V1275.2H446.3H447.0V1277.3H447.7H448.3V1275.4H449.0H449.6V1280.7H450.3H451.0V1278.3H451.6H452.3V1279.2H453.0H453.6V1283.3H454.3H455.0V1279.1H455.7H456.3V1280.4H457.0H457.7V1278.3H458.4H459.0V1285.0H459.7H460.4V1279.5H461.1H461.7V1282.0H462.4H463.1V1285.1H463.8H464.4V1282.1H465.1H465.8V1283.8H466.4H467.1V1281.2H467.8H468.5V1284.0H469.2H469.8V1287.4H470.5H471.2V1283.6H471.9H472.5V1286.0H473.2H473.9V1285.3H474.6L475.9,1285.3H476.6V1283.2H477.3H478.0V1285.7H478.6L480.0,1285.7H480.7V1285.8H481.4H482.1V1285.5H482.8H483.4V1283.9H484.1H484.8V1285.6H485.5H486.2V1285.1H486.9H487.5V1285.9H488.2H488.8V1280.2H489.4H490.1V1282.9H490.7H491.3V1280.5H492.0H492.6V1276.6H493.2H493.9V1274.7H494.5H495.1V1277.6H495.8H496.4V1279.7H497.0H497.6V1278.5H498.2H498.9V1280.7H499.5H500.1V1284.8H500.8H501.4V1285.7H502.0H502.7V1282.7H503.3H504.0V1279.5H504.7H505.3V1282.8H506.0H506.7V1281.9H507.3H508.0V1280.3H508.7H509.3V1282.1H510.0H510.7V1282.0H511.3H512.0V1282.9H512.7H513.3V1282.7H514.0H514.7V1281.5H515.3H516.0V1280.5H516.7H517.3V1283.6H518.0H518.7V1282.1H519.4H520.0V1282.6H520.7H521.4V1280.1H522.0L523.4,1280.1H524.0V1282.2H524.7H525.4V1284.9H526.1H526.7V1281.9H527.4H528.1V1281.7H528.8H529.4V1280.9H530.1H530.8V1282.4H531.5H532.2V1287.2H532.8H533.5V1286.9H534.2H534.9V1291.1H535.6H536.3V1292.1H537.0H537.7V1290.7H538.4H539.1V1289.6H539.8H540.5V1293.8H541.2H541.9V1295.6H542.6H543.3V1296.3H543.9H544.6V1295.9H545.2H545.9V1296.0H546.6H547.2V1295.9H547.9H548.5V1295.8H549.2H549.9V1293.9H550.5H551.2V1295.4H551.9H552.5V1294.5H553.2H553.8V1295.2H554.5H555.0V1292.5H555.6H556.1V1284.7H556.7H557.2V1286.7H557.8H558.4V1280.8H558.9H559.5V1282.9H560.1H560.6V1276.7H561.2H561.6V1262.3H562.0H562.6V1263.0H563.3H564.0V1262.0H564.6L564.6,1189.0H565.2V1188.6H565.8H566.4V1189.0H567.0L567.0,1080.0H567.8V1070.0H568.5H569.0V1069.7H569.5H570.0V1070.0H570.5L570.5,1123.0L572.2,1123.0L572.2,1224.3H573.0V1225.0H573.9L573.9,1290.0H574.6V1290.9H575.3H576.0V1293.1H576.6H577.3V1299.2H578.0H578.6V1297.7H579.3H580.0V1299.2H580.6H581.2V1301.9H581.9H582.6V1301.6H583.2H583.9V1304.9H584.6H585.3V1299.1H586.0H586.7V1300.8H587.4H588.1V1298.7H588.8H589.5V1297.8H590.2H590.9V1298.4H591.6H592.2V1296.9H592.9H593.5V1295.5H594.1H594.8V1296.5H595.4H596.1V1297.4H596.7H597.3V1299.0H598.0H598.6V1294.2H599.2H599.9V1296.2H600.5H601.2V1295.3H601.8H602.5V1295.2H603.1H603.8V1293.6H604.5H605.1V1293.5H605.8H606.5V1291.7H607.2H607.8V1290.6H608.5H609.1V1291.3H609.8H610.4V1294.7H611.0H611.7V1293.2H612.3H613.0V1294.5H613.6H614.3V1292.3H615.0H615.7V1292.4H616.4H617.1V1292.2H617.8H618.5V1293.1H619.2H619.9V1289.4H620.6H621.3V1290.2H622.0H622.6V1284.1H623.2L624.5,1284.1H625.1V1281.3H625.8H626.4V1275.0H627.0H628.8V1253.9H630.5H631.1V1252.6H631.8H632.4V1253.9H633.0L633.0,1201.5H633.6V1201.9H634.2H634.9V1201.5H635.5L635.5,1121.0H636.0V1121.3H636.5H637.0V1121.0H637.5L637.5,950.0H638.2V948.8H638.9H639.5V950.0H640.2L640.2,693.0H640.9V693.8H641.5H642.2V693.0H642.9L642.9,448.0H643.5V447.0H644.2H644.9V448.0H645.5L645.5,372.0L646.2,372.0L646.2,409.0H646.7V407.8H647.2H647.8V409.0H648.3H648.1V590.0H648.0H648.7V592.0H649.4H650.0V590.0H650.7L650.7,882.7H651.4V881.4H652.0H652.7V882.7H653.4L653.4,1085.0H654.0V1083.3H654.7H655.4V1085.0H656.0L656.0,1196.0H656.6V1198.8H657.1H657.7V1196.5H658.3L658.3,1245.4H659.0V1244.9H659.6H660.3V1246.3H661.0L661.0,1264.9H661.5V1266.6H662.1H662.6V1272.1H663.2H663.8V1275.0H664.3H665.5V1288.5H666.8H667.4V1289.0H668.0H668.6V1290.1H669.2H669.8V1292.2H670.3H670.9V1289.2H671.5H672.1V1290.5H672.7H673.4V1292.4H674.1H674.7V1291.1H675.4H676.1V1295.2H676.8H677.5V1299.5H678.1H678.8V1297.9H679.5L680.8,1297.9H681.4V1293.9H682.0H682.7V1299.3H683.3H683.9V1298.3H684.5H685.2V1297.7H685.8H686.4V1297.0H687.1H687.7V1297.6H688.3L689.6,1297.6H690.2V1297.8H690.9H691.5V1300.2H692.2H692.9V1301.5H693.5H694.1V1301.2H694.8H695.5V1297.5H696.1H696.8V1297.3H697.4H698.0V1300.2H698.7H699.4V1300.0H700.0H700.6V1300.2H701.2H701.9V1300.1H702.5H703.1V1299.9H703.8H704.4V1298.2H705.0H705.6V1299.6H706.2H706.9V1299.9H707.5H708.1V1301.1H708.8H709.4V1301.2H710.0H710.6V1303.1H711.2H711.9V1300.4H712.5H713.1V1301.0H713.8H714.4V1300.5H715.0H715.6V1301.5H716.2H716.9V1299.7H717.5H718.1V1300.0H718.8H719.4V1300.1H720.0H720.7V1301.2H721.4H722.1V1302.1H722.8H723.5V1305.9H724.2H724.9V1305.4H725.6H726.3V1304.9H727.0H727.7V1305.7H728.4H729.1V1308.6H729.7H730.4V1307.1H731.0H731.7V1308.1H732.4H733.0V1306.4H733.7H734.3V1306.0H735.0H735.7V1308.1H736.3H737.0V1308.6H737.7H738.3V1309.1H739.0H739.6V1307.9H740.3H740.9V1309.7H741.6H742.2V1308.1H742.9H743.5V1309.0H744.1H744.8V1311.5H745.4H746.1V1314.5H746.7H747.3V1311.4H748.0H748.6V1309.2H749.3H749.9V1308.7H750.5H751.2V1310.2H751.8H752.5V1306.9H753.1H753.7V1307.1H754.4H755.0V1309.4H755.7H756.3V1309.7H756.9H757.6V1310.3H758.2H758.9V1310.1H759.5H760.1V1308.3H760.8H761.4V1307.9H762.1H762.7V1308.4H763.4H764.0V1308.9H764.6H765.3V1306.2H765.9H766.6V1309.8H767.2H767.8V1310.3H768.5H769.1V1308.2H769.8H770.4V1309.5H771.0H771.7V1308.5H772.3H773.0V1308.8H773.6H774.2V1308.2H774.9H775.5V1309.9H776.2H776.8V1308.5H777.4H778.1V1306.0H778.7H779.4V1309.6H780.0H780.6V1309.1H781.3L782.6,1309.1H783.2V1308.5H783.9H784.5V1310.1H785.2H785.8V1309.3H786.5H787.1V1307.5H787.7H788.4V1309.2H789.0H789.7V1311.4H790.3H791.0V1308.7H791.6H792.3V1313.0H792.9H793.5V1311.5H794.2H794.8V1307.0H795.5H796.1V1308.2H796.8H797.4V1308.5H798.1H798.7V1308.2H799.4H800.0V1311.0H800.6H801.3V1307.9H801.9H802.6V1309.1H803.2H803.9V1309.0H804.5H805.2V1311.2H805.8H806.5V1309.0H807.1H807.7V1311.0H808.4H809.0V1308.1H809.7H810.3V1308.4H811.0H811.6V1308.1H812.3H812.9V1308.8H813.5H814.2V1308.3H814.8H815.5V1309.4H816.1H816.8V1310.9H817.4H818.1V1307.8H818.7H819.4V1309.1H820.0H820.6V1309.4H821.3H821.9V1309.3H822.5H823.2V1308.8H823.8H824.5V1309.3H825.1H825.7V1306.8H826.4H827.0V1307.6H827.6H828.3V1308.2H828.9H829.6V1309.8H830.2H830.8V1310.7H831.5H832.1V1309.2H832.8H833.4V1308.7H834.0H834.7V1310.7H835.3H835.9V1309.8H836.6H837.2V1308.7H837.9H838.5V1309.1H839.1H839.8V1308.5H840.4H841.0V1308.3H841.5H842.1V1309.8H842.7H843.2V1306.4H843.8H844.4V1309.5H845.1H845.7V1307.6H846.3H847.0V1305.7H847.6H848.3V1308.0H848.9H849.5V1306.6H850.2H850.8V1305.5H851.5H852.1V1306.0H852.7H853.4V1306.5H854.0H854.6V1306.2H855.2H855.9V1300.0H856.5H857.1V1301.4H857.8H858.4V1298.6H859.0H860.2V1285.0H861.5H862.8V1248.8H864.0H865.3V1227.7H866.6H867.8V1253.0H869.0H870.8V1275.0H872.5H873.8V1298.6H875.0H875.7V1302.3H876.4H877.1V1304.3H877.9H878.6V1305.8H879.3H880.0V1307.5H880.6H881.3V1312.2H882.0H882.6V1307.0H883.3H884.0V1306.6H884.7H885.3V1306.7H886.0H886.6V1305.8H887.3H887.9V1309.1H888.5H889.2V1305.7H889.8H890.4V1308.6H891.1H891.7V1308.8H892.4H893.0V1307.5H893.6H894.3V1307.9H894.9H895.5V1308.2H896.2H896.8V1307.1H897.4H898.1V1308.5H898.7H899.3V1309.2H900.0H900.6V1308.5H901.2H901.9V1307.1H902.5H903.1V1307.6H903.8H904.4V1308.6H905.0H905.7V1309.8H906.3H907.0V1308.5H907.6H908.2V1308.1H908.9H909.5V1307.2H910.1H910.8V1308.3H911.4H912.1V1307.0H912.8H913.4V1306.5H914.1H914.8V1305.2H915.4H916.1V1304.9H916.8H917.5V1303.2H918.1H918.8V1304.0H919.5H920.2V1304.6H920.9H921.5V1302.7H922.2H922.9V1303.0H923.5H924.2V1301.2H924.9H925.6V1300.5H926.2H926.9V1301.2H927.6H928.2V1302.6H928.9H929.6V1304.2H930.3H930.9V1301.4H931.6H932.3V1303.4H932.9H933.6V1305.9H934.3H935.0V1303.3H935.6H936.3V1303.4H937.0H937.6V1304.8H938.3H939.0V1302.0H939.6H940.3V1305.2H941.0H941.7V1302.4H942.3H943.0V1305.3H943.7H944.3V1304.4H945.0H945.7V1302.2H946.3H947.0V1304.6H947.6H948.3V1303.2H948.9H949.6V1305.7H950.2H950.9V1303.4H951.5H952.2V1304.9H952.8H953.5V1303.8H954.1H954.8V1304.2H955.4H956.1V1304.2H956.7H957.4V1302.1H958.0H958.7V1303.6H959.3H960.0V1304.5H960.6H961.3V1305.3H961.9H962.6V1305.1H963.2H963.9V1303.8H964.5H965.2V1304.5H965.8H966.5V1305.3H967.1H967.8V1303.8H968.4H969.1V1305.6H969.7H970.4V1305.2H971.1H971.7V1307.0H972.4H973.0V1304.2H973.7H974.3V1306.5H975.0H975.6V1304.6H976.3H976.9V1306.0H977.6H978.2V1304.0H978.9H979.5V1304.6H980.2H980.8V1309.1H981.5H982.1V1304.5H982.8H983.4V1304.2H984.1H984.7V1306.4H985.4H986.0V1306.7H986.7H987.3V1305.7H988.0H988.6V1304.9H989.3H989.9V1306.0H990.6H991.2V1302.4H991.9H992.5V1305.3H993.2H993.8V1306.3H994.5H995.1V1304.9H995.8H996.5V1304.2H997.2H997.8V1303.8H998.5H999.2V1302.9H999.9H1000.6V1297.7H1001.3H1002.0V1302.3H1002.6H1003.3V1302.0H1004.0H1004.6V1300.2H1005.2H1005.9V1302.4H1006.5H1007.1V1299.6H1007.7H1008.4V1300.9H1009.0H1009.6V1299.6H1010.2H1010.8V1296.3H1011.5H1012.1V1297.1H1012.7H1013.4V1301.4H1014.1H1014.9V1294.2H1015.6H1016.3V1290.2H1017.0H1018.2V1273.3H1019.5H1020.8V1256.4H1022.0H1022.6V1255.5H1023.2H1023.9V1256.4H1024.5L1024.5,1217.6H1025.2V1216.1H1025.9H1026.6V1217.6H1027.3L1027.3,1149.0H1027.8V1146.2H1028.4H1029.0V1143.0H1029.5L1031.0,1143.0L1031.0,1159.0L1032.6,1159.0L1032.6,1214.0H1033.3V1217.0H1034.0H1034.8V1215.0H1035.5L1035.5,1256.4H1036.1V1256.6H1036.8H1037.4V1257.3H1038.0L1038.0,1295.3H1038.6V1298.0H1039.1H1039.7V1300.9H1040.3H1040.8V1304.2H1041.4H1042.0V1303.6H1042.7H1043.3V1299.8H1044.0H1044.6V1303.8H1045.2H1045.9V1304.1H1046.5H1047.2V1305.2H1047.8H1048.5V1304.0H1049.1H1049.8V1304.6H1050.4H1051.1V1305.2H1051.7H1052.4V1304.8H1053.1H1053.7V1305.6H1054.4H1055.0V1303.0H1055.7H1056.3V1303.9H1057.0H1057.6V1307.4H1058.3H1058.9V1306.8H1059.6H1060.2V1303.9H1060.8H1061.5V1301.3H1062.1H1062.8V1299.9H1063.4H1064.1V1302.8H1064.7H1065.3V1298.2H1066.0H1066.7V1298.9H1067.3H1068.0V1300.9H1068.6H1069.2V1301.8H1069.9H1070.6V1300.8H1071.2H1071.8V1303.4H1072.5H1073.2V1299.1H1073.8H1074.4V1301.5H1075.1H1075.8V1299.8H1076.4H1077.1V1301.2H1077.7H1078.3V1296.7H1079.0H1079.7V1300.4H1080.3H1081.0V1299.3H1081.7H1082.4V1298.5H1083.1H1083.8V1297.1H1084.5H1085.2V1299.4H1085.9H1086.6V1293.2H1087.3L1088.7,1293.2H1089.3V1295.0H1089.9H1090.5V1292.0H1091.1H1091.7V1294.4H1092.3H1093.0V1290.2H1093.6H1094.2V1290.8H1094.8H1095.4V1289.3H1096.0H1096.6V1290.4H1097.2H1097.8V1287.9H1098.5H1099.1V1289.3H1099.8H1100.4V1291.7H1101.1H1101.7V1289.8H1102.4H1103.0V1289.6H1103.7H1104.3V1290.8H1105.0H1105.6V1289.1H1106.2H1106.9V1290.9H1107.5H1108.2V1286.4H1108.8H1109.5V1291.2H1110.1H1110.8V1289.9H1111.4H1112.1V1289.1H1112.7H1113.4V1288.2H1114.0H1114.7V1286.1H1115.3H1116.0V1288.8H1116.6H1117.3V1287.1H1118.0H1118.6V1288.6H1119.3H1120.0V1285.8H1120.6H1121.3V1285.7H1121.9H1122.6V1284.0H1123.3H1123.9V1285.5H1124.6H1125.2V1284.3H1125.9H1126.6V1285.3H1127.2H1127.9V1284.1H1128.6H1129.3V1283.4H1130.0H1130.6V1283.6H1131.3H1132.0V1289.0H1132.7H1133.3V1284.0H1134.0H1134.7V1285.3H1135.4H1136.0V1285.1H1136.7H1137.4V1286.8H1138.1H1138.7V1285.4H1139.4H1140.1V1283.6H1140.8H1141.5V1284.8H1142.2H1142.9V1282.8H1143.6H1144.3V1281.4H1145.0H1145.7V1280.7H1146.4H1147.1V1281.6H1147.8H1148.5V1283.7H1149.2H1149.8V1279.0H1150.5H1151.2V1277.4H1151.9H1152.6V1276.3H1153.2H1153.9V1274.5H1154.6H1155.1V1278.2H1155.7H1156.2V1279.0H1156.8H1157.6V1286.0H1158.4H1159.0V1282.4H1159.6H1160.2V1290.0H1160.8H1161.4V1292.5H1162.0H1162.7V1299.7H1163.3H1163.9V1293.3H1164.5H1165.1V1296.3H1165.7H1166.3V1296.8H1166.9H1167.5V1296.6H1168.2H1168.8V1299.5H1169.5H1170.1V1299.3H1170.7H1171.4V1302.8H1172.0H1172.7V1298.3H1173.4H1174.1V1300.0H1174.8H1175.5V1300.4H1176.2L1177.6,1300.3H1178.3V1300.9H1179.0H1179.7V1301.0H1180.4H1181.1V1299.5H1181.8H1182.4V1297.1H1183.1H1183.8V1308.1H1184.5H1185.2V1304.9H1185.8H1186.5V1306.4H1187.2H1187.9V1306.2H1188.5H1189.2V1306.7H1189.9H1190.6V1307.4H1191.2H1191.9V1306.4H1192.6H1193.3V1308.1H1194.0H1194.6V1306.8H1195.3H1196.0V1306.4H1196.7H1197.3V1309.1H1198.0H1198.7V1307.8H1199.4H1200.0V1308.7H1200.7H1201.3V1307.6H1202.0H1202.6V1306.9H1203.3H1203.9V1305.1H1204.6H1205.2V1309.0H1205.9H1206.5V1309.6H1207.2H1207.8V1310.3H1208.5H1209.1V1309.6H1209.8H1210.4V1307.9H1211.1H1211.7V1308.7H1212.4H1213.0V1310.3H1213.7H1214.3V1307.5H1215.0H1215.6V1306.4H1216.3H1216.9V1307.7H1217.6H1218.2V1306.8H1218.9H1219.5V1308.2H1220.2H1220.8V1307.5H1221.5H1222.1V1309.2H1222.8H1223.4V1309.4H1224.1H1224.7V1309.2H1225.3H1226.0V1309.6H1226.6H1227.3V1309.2H1227.9H1228.6V1308.3H1229.2H1229.9V1315.4H1230.5H1231.2V1307.8H1231.8H1232.5V1309.6H1233.1H1233.8V1309.3H1234.4H1235.1V1309.1H1235.7H1236.4V1312.0H1237.0H1237.7V1311.8H1238.3H1239.0V1308.8H1239.6H1240.3V1310.6H1240.9H1241.6V1308.2H1242.2H1242.9V1309.5H1243.5H1244.2V1309.1H1244.8H1245.5V1308.9H1246.1H1246.8V1307.1H1247.4H1248.1V1308.1H1248.7H1249.4V1308.9H1250.0H1250.7V1308.8H1251.3H1252.0V1308.3H1252.6H1253.3V1309.0H1253.9H1254.6V1311.7H1255.3H1255.9V1308.2H1256.6H1257.2V1308.0H1257.9H1258.5V1308.6H1259.2H1259.9V1306.1H1260.5H1261.2V1307.7H1261.8H1262.5V1309.1H1263.1H1263.8V1305.5H1264.4H1265.1V1308.9H1265.8H1266.4V1306.8H1267.1H1267.7V1309.9H1268.4H1269.0V1304.9H1269.7H1270.4V1307.4H1271.0H1271.7V1308.4H1272.3H1273.0V1307.0H1273.6H1274.3V1306.9H1275.0H1275.6V1308.1H1276.3H1276.9V1306.7H1277.6H1278.2V1307.8H1278.9H1279.6V1309.5H1280.2H1280.9V1305.6H1281.5H1282.2V1306.4H1282.8H1283.5V1306.6H1284.2H1284.8V1307.4H1285.5H1286.1V1304.9H1286.8H1287.4V1304.6H1288.1H1288.7V1305.8H1289.4H1290.1V1306.1H1290.7H1291.4V1306.9H1292.0H1292.7V1308.0H1293.3H1294.0V1305.6H1294.7H1295.3V1306.2H1296.0H1296.6V1308.6H1297.3H1297.9V1304.4H1298.6H1299.2V1302.9H1299.9H1300.5V1300.3H1301.2H1301.8V1298.6H1302.4H1303.1V1297.4H1303.7H1304.3V1297.7H1305.0H1305.6V1294.8H1306.2H1306.9V1295.2H1307.5H1308.2V1295.3H1308.8L1308.8,1280.0H1310.0V1256.4H1311.3H1312.6V1225.2H1313.9H1314.5V1227.2H1315.2H1315.8V1225.2H1316.4L1316.4,1156.0H1317.1V1152.3H1317.7H1318.3V1156.0H1319.0L1319.0,1059.0H1319.5V1058.0H1320.1H1320.7V1059.4H1321.2H1321.8V1059.0H1322.3L1322.3,946.0H1322.9V946.7H1323.5H1324.2V946.0H1324.8L1324.8,883.4H1325.7V879.6H1326.5H1327.4V880.0H1328.3L1328.3,901.0L1329.5,901.0L1329.5,969.5H1330.2V969.9H1330.9H1331.6V969.5H1332.3L1332.3,1069.0H1333.0V1071.0H1333.8H1334.5V1070.0H1335.2L1335.2,1150.0H1335.8V1150.1H1336.3H1336.9V1150.0H1337.5L1337.5,1216.7H1338.1V1218.1H1338.8H1339.4V1217.6H1340.0L1340.0,1261.5H1340.7V1261.2H1341.3H1341.9V1262.3H1342.6L1342.6,1282.6H1343.2V1283.0H1343.8H1344.4V1283.4H1345.0L1345.0,1297.8H1345.7V1299.8H1346.4H1347.2V1300.4H1347.9H1348.6V1302.3H1349.3H1349.9V1305.1H1350.4H1351.0V1307.0H1351.6H1352.1V1309.1H1352.7H1353.3V1309.2H1354.0L1355.3,1309.2H1355.9V1309.0H1356.6H1357.2V1310.0H1357.9H1358.6V1308.8H1359.2H1359.8V1310.2H1360.5H1361.2V1306.7H1361.8H1362.4V1308.8H1363.1H1363.8V1310.6H1364.4H1365.0V1309.9H1365.7H1366.3V1310.1H1367.0H1367.7V1309.0H1368.3H1368.9V1307.7H1369.6H1370.4V1298.6H1371.3H1373.0V1280.0H1374.7H1376.0V1269.6H1377.2H1377.8V1270.0H1378.5H1379.1V1273.3H1379.7H1381.0V1286.8H1382.3H1382.8V1289.5H1383.4H1383.9V1292.5H1384.5H1385.0V1297.0H1385.6H1386.9V1313.9H1388.2H1388.8V1313.4H1389.3H1389.9V1315.9H1390.5H1391.0V1317.0H1391.6H1392.3V1316.3H1392.9H1393.6V1316.8H1394.2H1394.9V1315.0H1395.5H1396.2V1318.9H1396.8H1397.5V1318.6H1398.2H1398.8V1320.7H1399.5H1400.1V1319.6H1400.8H1401.4V1319.1H1402.1H1402.7V1320.1H1403.4H1404.1V1319.6H1404.7H1405.4V1320.3H1406.1H1406.7V1318.9H1407.4H1408.1V1319.5H1408.7H1409.4V1320.7H1410.1H1410.7V1320.8H1411.4H1412.1V1319.7H1412.7H1413.4V1315.6H1414.1H1414.7V1320.0H1415.4H1416.1V1319.4H1416.7H1417.4V1320.6H1418.0H1418.7V1319.9H1419.4H1420.0V1319.7H1420.7H1421.4V1320.2H1422.0H1422.7V1316.7H1423.4H1424.0V1319.4H1424.7H1425.4V1320.7H1426.0H1426.7V1319.1H1427.4H1428.0V1319.4H1428.7H1429.3V1320.1H1429.9H1430.5V1320.6H1431.1H1431.7V1322.1H1432.3L1433.6,1322.1H1434.2V1321.9H1434.8H1435.4V1322.4H1436.0H1436.6V1322.2H1437.2H1437.8V1322.5H1438.5H1439.1V1325.0H1439.8H1440.4V1321.5H1441.1H1441.7V1323.0H1442.4H1443.0V1322.8H1443.7H1444.3V1320.5H1445.0H1445.6V1322.8H1446.2H1446.9V1323.0H1447.5H1448.2V1321.5H1448.8H1449.5V1322.6H1450.1H1450.8V1321.8H1451.4H1452.1V1323.9H1452.7H1453.4V1322.4H1454.0L1455.3,1322.4H1456.0V1319.3H1456.6H1457.3V1322.6H1457.9H1458.6V1321.8H1459.3H1459.9V1323.4H1460.6H1461.2V1323.0H1461.9H1462.5V1323.1H1463.2H1463.9V1324.0H1464.5H1465.2V1321.8H1465.8H1466.5V1321.8H1467.1H1467.8V1323.8H1468.5H1469.1V1323.2H1469.8H1470.4V1318.6H1471.1H1471.7V1323.0H1472.4H1473.1V1324.3H1473.7H1474.4V1322.5H1475.0H1475.7V1322.8H1476.3H1477.0V1324.5H1477.7H1478.3V1322.5H1479.0H1479.6V1323.2H1480.3H1480.9V1323.3H1481.6H1482.3V1326.8H1482.9H1483.6V1324.2H1484.2H1484.9V1323.3H1485.5H1486.2V1325.2H1486.9H1487.5V1323.7H1488.2H1488.8V1323.3H1489.5H1490.1V1324.7H1490.8H1491.5V1323.6H1492.1H1492.8V1327.3H1493.4H1494.1V1323.7H1494.7H1495.4V1324.0H1496.1H1496.7V1322.8H1497.4H1498.0V1324.4H1498.7H1499.3V1324.6H1500.0H1500.7V1323.5H1501.3H1502.0V1323.8H1502.6H1503.3V1324.5H1503.9H1504.6V1320.4H1505.2H1505.9V1324.9H1506.5L1507.8,1325.0H1508.5V1324.0H1509.1H1509.8V1323.0H1510.4H1511.1V1323.8H1511.7H1512.4V1323.8H1513.0H1513.7V1325.3H1514.3H1515.0V1324.7H1515.7L1517.0,1324.7H1517.6V1325.7H1518.3H1518.9V1323.9H1519.6H1520.2V1326.1H1520.9H1521.5V1321.0H1522.2H1522.8V1325.0H1523.5H1524.1V1323.8H1524.8H1525.4V1325.0H1526.1H1526.7V1323.8H1527.4H1528.0V1325.4H1528.7H1529.3V1325.2H1530.0H1530.7V1324.8H1531.3H1532.0V1323.3H1532.6H1533.3V1325.0H1533.9H1534.6V1322.9H1535.2H1535.9V1324.0H1536.5H1537.2V1324.7H1537.8H1538.5V1324.0H1539.1H1539.8V1325.2H1540.4H1541.1V1325.5H1541.7H1542.4V1324.3H1543.0H1543.7V1327.3H1544.3H1545.0V1323.9H1545.7H1546.3V1325.2H1547.0H1547.6V1325.4H1548.3H1548.9V1323.8H1549.6H1550.2V1324.6H1550.9H1551.5V1324.8H1552.2H1552.8V1324.6H1553.5H1554.1V1324.1H1554.8H1555.4V1323.9H1556.1H1556.7V1324.4H1557.4H1558.0V1326.5H1558.7H1559.3V1325.7H1560.0H1560.7V1325.8H1561.3H1562.0V1324.4H1562.6H1563.3V1324.9H1563.9H1564.6V1324.0H1565.2H1565.9V1325.8H1566.5H1567.2V1325.0H1567.8H1568.5V1324.2H1569.1H1569.8V1325.4H1570.4H1571.1V1328.7H1571.7H1572.4V1325.0H1573.0H1573.7V1325.7H1574.3H1575.0V1326.7H1575.6H1576.3V1324.3H1576.9H1577.6V1324.4H1578.2H1578.9V1325.7H1579.5H1580.2V1325.2H1580.8H1581.5V1326.4H1582.1H1582.8V1324.3H1583.4H1584.1V1321.7H1584.7H1585.4V1326.0H1586.0H1586.7V1325.2H1587.3H1588.0V1326.7H1588.6H1589.3V1326.8H1589.9H1590.6V1325.6H1591.2H1591.9V1326.1H1592.5H1593.2V1325.2H1593.8H1594.5V1330.3H1595.1H1595.8V1327.4H1596.4H1597.1V1325.5H1597.7H1598.4V1325.0H1599.0H1599.7V1323.9H1600.3H1601.0V1324.9H1601.7H1602.3V1325.3H1603.0H1603.6V1326.2H1604.3H1604.9V1325.5H1605.6H1606.2V1325.3H1606.9H1607.5V1326.7H1608.2H1608.8V1325.7H1609.5H1610.1V1325.1H1610.8H1611.4V1324.8H1612.1H1612.7V1325.4H1613.4H1614.0V1324.9H1614.7H1615.3V1325.3H1616.0H1616.6V1325.4H1617.3H1617.9V1324.9H1618.6H1619.2V1325.6H1619.9H1620.5V1326.7H1621.2H1621.8V1324.8H1622.5H1623.1V1326.0H1623.8H1624.4V1325.3H1625.1H1625.7V1326.2H1626.4H1627.0V1325.1H1627.7L1629.0,1325.1H1629.6V1327.0H1630.3H1630.9V1327.4H1631.6H1632.2V1326.3H1632.9H1633.5V1325.2H1634.2H1634.8V1325.5H1635.5H1636.1V1331.1H1636.8H1637.4V1327.2H1638.1H1638.7V1326.2H1639.4H1640.0V1326.6H1640.7H1641.3V1326.2H1642.0H1642.6V1326.0H1643.2H1643.8V1324.9H1644.4H1645.0V1322.7H1645.6H1646.2V1325.1H1646.9H1647.5V1321.5H1648.1H1648.7V1323.1H1649.3H1649.9V1320.8H1650.5H1651.2V1319.4H1651.8H1652.5V1315.8H1653.2L1654.5,1315.9H1655.2V1313.5H1655.9H1656.5V1312.0H1657.2H1657.9V1307.9H1658.6H1659.3V1304.7H1660.1H1660.8V1302.9H1661.5H1662.2V1306.6H1662.9H1663.6V1304.6H1664.3H1665.0V1310.6H1665.7H1666.4V1308.7H1667.0H1667.7V1314.5H1668.4H1669.1V1314.9H1669.7H1670.4V1316.1H1671.1H1671.7V1317.3H1672.4H1673.1V1318.8H1673.7H1674.4V1322.5H1675.0H1675.7V1319.4H1676.4H1677.0V1324.0H1677.7H1678.3V1324.4H1679.0H1679.6V1323.9H1680.2H1680.9V1324.8H1681.5H1682.1V1325.7H1682.7H1683.4V1325.9H1684.0H1684.6V1327.1H1685.2H1685.8V1326.3H1686.5H1687.1V1326.6H1687.7H1688.3V1326.5H1689.0H1689.6V1323.4H1690.2H1690.8V1327.2H1691.5H1692.1V1328.0H1692.7H1693.3V1328.8H1694.0H1694.6V1326.6H1695.3H1695.9V1328.8H1696.6H1697.2V1327.6H1697.9H1698.5V1327.9H1699.2H1699.8V1327.6H1700.5H1701.1V1328.2H1701.8H1702.4V1327.4H1703.1H1703.7V1329.0H1704.4H1705.0V1328.6H1705.7H1706.3V1327.8H1707.0H1707.6V1328.1H1708.3H1708.9V1329.9H1709.6H1710.2V1327.6H1710.9H1711.5V1328.1H1712.2H1712.8V1328.6H1713.5H1714.1V1327.5H1714.8H1715.4V1328.8H1716.1H1716.7V1328.9H1717.4H1718.0V1329.9H1718.7H1719.3V1327.5H1720.0H1720.6V1328.5H1721.3H1721.9V1327.4H1722.6H1723.2V1328.8H1723.9H1724.5V1331.5H1725.2H1725.8V1329.4H1726.5H1727.1V1327.2H1727.8H1728.4V1329.2H1729.1H1729.7V1330.4H1730.4H1731.0V1327.4H1731.7H1732.3V1328.5H1733.0H1733.6V1329.4H1734.3H1734.9V1329.6H1735.6H1736.2V1328.7H1736.9H1737.5V1328.9H1738.2H1738.8V1327.5H1739.5H1740.1V1329.4H1740.8H1741.4V1327.9H1742.1H1742.7V1328.7H1743.3H1744.0V1330.1H1744.6H1745.3V1328.5H1745.9H1746.6V1331.1H1747.2H1747.9V1329.8H1748.5H1749.2V1329.1H1749.8H1750.5V1330.4H1751.1H1751.8V1328.4H1752.4H1753.1V1329.8H1753.7H1754.4V1329.2H1755.0H1755.7V1328.8H1756.3H1757.0V1333.2H1757.6H1758.3V1330.0H1758.9H1759.6V1330.5H1760.2H1760.9V1329.4H1761.5H1762.2V1330.6H1762.8H1763.5V1331.2H1764.1H1764.8V1329.8H1765.4H1766.1V1330.4H1766.7H1767.4V1331.4H1768.0H1768.7V1329.1H1769.3H1770.0V1330.6H1770.6H1771.3V1329.5H1771.9H1772.6V1331.4H1773.2H1773.9V1330.0H1774.5H1775.2V1331.0H1775.8H1776.5V1330.1H1777.1H1777.8V1330.2H1778.4H1779.1V1330.3H1779.7H1780.4V1331.3H1781.0H1781.7V1329.2H1782.3H1783.0V1329.8H1783.6H1784.3V1329.9H1784.9H1785.6V1330.6H1786.2H1786.9V1329.8H1787.5H1788.2V1330.9H1788.8H1789.5V1330.4H1790.1H1790.8V1334.7H1791.4H1792.1V1331.3H1792.7H1793.4V1330.2H1794.0H1794.7V1329.8H1795.3H1796.0V1329.0H1796.6H1797.3V1330.4H1797.9H1798.6V1331.9H1799.3H1799.9V1331.4H1800.6H1801.2V1332.0H1801.9H1802.5V1331.8H1803.2H1803.9V1331.1H1804.5H1805.2V1331.8H1805.8L1807.1,1331.7H1807.8V1332.3H1808.5H1809.1V1332.7H1809.8H1810.4V1332.6H1811.1H1811.7V1332.0H1812.4H1813.1V1330.6H1813.7H1814.4V1330.8H1815.0H1815.7V1331.9H1816.3H1817.0V1332.4H1817.7H1818.3V1331.4H1819.0H1819.6V1332.1H1820.3H1820.9V1332.3H1821.6H1822.3V1333.3H1822.9H1823.6V1332.5H1824.2H1824.9V1332.8H1825.5H1826.2V1332.2H1826.9H1827.5V1333.1H1828.2H1828.8V1333.9H1829.5H1830.1V1333.3H1830.8H1831.5V1331.9H1832.1H1832.8V1333.1H1833.4H1834.1V1331.8H1834.7H1835.4V1332.7H1836.1H1836.7V1333.3H1837.4H1838.0V1332.6H1838.7H1839.3V1333.5H1840.0L1841.3,1333.5H1841.9V1332.6H1842.6H1843.2V1334.2H1843.9H1844.5V1332.3H1845.2H1845.8V1333.3H1846.5H1847.1V1333.3H1847.8H1848.4V1333.9H1849.1H1849.7V1332.3H1850.4H1851.0V1333.4H1851.7H1852.3V1333.1H1853.0H1853.6V1333.3H1854.3H1854.9V1333.2H1855.6H1856.2V1332.5H1856.9H1857.5V1331.3H1858.2H1858.8V1332.4H1859.5H1860.1V1333.1H1860.8H1861.4V1328.1H1862.1H1862.7V1333.4H1863.4H1864.0V1332.9H1864.7L1866.0,1332.9H1866.6V1333.9H1867.3H1867.9V1332.3H1868.5H1869.2V1331.9H1869.8H1870.5V1332.6H1871.1H1871.8V1331.6H1872.4H1873.1V1333.4H1873.7H1874.4V1333.1H1875.0H1875.7V1334.4H1876.3H1877.0V1335.3H1877.6H1878.3V1332.2H1878.9H1879.6V1333.0H1880.2H1880.9V1332.0H1881.5H1882.2V1333.7H1882.8H1883.5V1332.4H1884.1H1884.8V1333.9H1885.4H1886.1V1332.1H1886.7H1887.4V1332.8H1888.0H1888.7V1331.8H1889.3H1890.0V1333.8H1890.6H1891.3V1332.1H1891.9H1892.6V1333.4H1893.2H1893.9V1332.6H1894.5H1895.2V1332.8H1895.8H1896.6V1330.1H1897.4H1898.2V1326.2H1899.0H1899.6V1325.0H1900.2H1900.7V1322.5H1901.3H1901.9V1322.8H1902.4H1903.0V1320.8H1903.6H1904.2V1319.0H1904.8H1905.3V1317.7H1905.9H1906.5V1316.4H1907.0H1907.6V1316.0H1908.2H1908.8V1315.4H1909.4H1910.1V1317.3H1910.7H1911.3V1319.0H1911.9H1912.5V1319.2H1913.2H1913.8V1319.5H1914.4H1915.0V1320.9H1915.6H1916.1V1321.2H1916.7H1917.3V1323.8H1917.8H1918.4V1325.4H1919.0H1919.6V1326.4H1920.2H1920.9V1328.1H1921.5H1922.1V1327.6H1922.7H1923.3V1327.5H1924.0H1924.6V1329.3H1925.2H1926.0V1332.7H1926.8H1927.5V1333.2H1928.3H1928.9V1333.7H1929.5H1930.1V1333.2H1930.7H1931.3V1335.0H1932.0H1932.6V1334.0H1933.2H1933.8V1334.5H1934.4H1935.0V1334.7H1935.7H1936.3V1333.4H1937.0H1937.6V1333.8H1938.3H1938.9V1334.7H1939.6H1940.2V1334.8H1940.9H1941.5V1334.0H1942.2H1942.8V1334.2H1943.5H1944.1V1330.1H1944.8H1945.4V1335.6H1946.1H1946.7V1334.8H1947.4H1948.0V1334.6H1948.7H1949.3V1334.7H1950.0H1950.6V1336.0H1951.3H1951.9V1335.2H1952.6H1953.2V1334.6H1953.9H1954.5V1334.1H1955.2H1955.8V1335.2H1956.5H1957.1V1335.5H1957.8H1958.4V1334.7H1959.1H1959.7V1334.3H1960.4H1961.0V1334.2H1961.7H1962.3V1333.0H1963.0H1963.6V1334.5H1964.3H1964.9V1334.4H1965.6H1966.2V1334.7H1966.9L1968.2,1334.6H1968.8V1333.2H1969.5H1970.1V1334.4H1970.8H1971.4V1335.0H1972.1H1972.7V1334.5H1973.4H1974.0V1335.4H1974.7H1975.3V1334.6H1976.0H1976.6V1334.1H1977.3H1977.9V1333.5H1978.6H1979.2V1334.0H1979.9H1980.5V1333.4H1981.2H1981.8V1334.2H1982.5H1983.1V1336.3H1983.8H1984.4V1334.7H1985.1H1985.7V1333.5H1986.4H1987.0V1334.5H1987.7H1988.3V1335.6H1989.0H1989.6V1339.3H1990.3H1990.9V1334.7H1991.6H1992.2V1336.1H1992.8H1993.5V1334.9H1994.1H1994.8V1335.0H1995.4H1996.1V1334.6H1996.7H1997.4V1330.1H1998.0H1998.7V1334.2H1999.3H2000.0V1334.9H2000.6L2001.9,1334.9H2002.6V1334.1H2003.2H2003.9V1334.4H2004.5H2005.2V1334.9H2005.8H2006.5V1335.5H2007.1H2007.8V1334.7H2008.4H2009.1V1335.4H2009.7H2010.4V1335.0H2011.0H2011.7V1335.5H2012.3H2013.0V1335.4H2013.6H2014.3V1335.2H2014.9H2015.6V1333.8H2016.2H2016.9V1335.2H2017.5H2018.2V1333.8H2018.8H2019.5V1337.9H2020.1H2020.8V1333.4H2021.4H2022.1V1335.3H2022.7L2024.0,1335.3H2024.7V1335.9H2025.3H2026.0V1334.0H2026.6H2027.3V1334.6H2027.9H2028.6V1338.8H2029.2H2029.9V1336.0H2030.5H2031.2V1334.0H2031.8H2032.5V1334.2H2033.1H2033.8V1334.5H2034.4H2035.1V1334.3H2035.7H2036.4V1334.7H2037.0H2037.7V1335.2H2038.3H2039.0V1334.7H2039.6H2040.3V1334.8H2040.9H2041.6V1334.9H2042.2H2042.9V1332.8H2043.5H2044.2V1336.2H2044.8H2045.5V1335.2H2046.1H2046.8V1335.0H2047.4H2048.1V1334.3H2048.7H2049.4V1334.8H2050.0H2050.7V1333.7H2051.3H2052.0V1333.9H2052.7H2053.3V1331.1H2054.0H2054.7V1331.2H2055.3H2056.0V1329.3H2056.7H2057.3V1332.4H2058.0H2058.7V1333.2H2059.4H2060.1V1333.4H2060.8H2061.5V1334.4H2062.2H2062.9V1330.4H2063.6H2064.3V1335.1H2065.0H2065.7V1335.6H2066.3H2067.0V1335.1H2067.6H2068.3V1334.9H2068.9H2069.6V1338.0H2070.2H2070.9V1335.5H2071.6H2072.2V1334.5H2072.9H2073.5V1335.5H2074.2H2074.8V1334.9H2075.5H2076.2V1337.2H2076.8H2077.5V1336.3H2078.1H2078.8V1335.6H2079.4H2080.1V1336.3H2080.7H2081.4V1335.5H2082.1H2082.7V1335.4H2083.4H2084.0V1336.5H2084.7H2085.3V1335.5H2086.0H2086.6V1335.7H2087.3" fill="none" stroke="#ff3a3a" stroke-width="2.4" stroke-linejoin="miter" stroke-miterlimit="2"/>
<path d="M134.2,964.9L135.5,964.9H136.1V963.7H136.7H137.4V960.3H138.0H138.6V960.3H139.2H139.8V963.0H140.3H140.9V958.3H141.5H142.1V958.7H142.7H143.8V968.0H145.0H145.6V968.4H146.2H146.9V968.3H147.5H148.1V969.7H148.8H149.4V970.0H150.0H150.6V970.7H151.2H151.9V969.1H152.5H153.1V969.9H153.8H154.4V969.1H155.0H155.6V968.8H156.2H156.9V969.2H157.5H158.1V968.2H158.8H159.4V968.1H160.0H160.6V967.7H161.2H161.9V969.5H162.5H163.1V971.3H163.8H164.4V971.8H165.0H165.6V971.2H166.2H166.9V969.4H167.5H168.1V971.2H168.8H169.4V969.2H170.0H170.6V967.2H171.2H171.9V966.9H172.5H173.1V966.8H173.8H174.4V965.9H175.0H175.7V966.2H176.4H177.1V964.9H177.8H178.6V965.3H179.3H180.0V964.8H180.7H181.4V966.2H182.0H182.7V969.3H183.3H184.0V966.4H184.7H185.3V972.4H186.0H186.7V973.8H187.3H188.0V972.9H188.7H189.3V975.2H190.0H190.7V974.3H191.3H192.0V980.0H192.7H193.3V981.5H194.0H194.6V982.7H195.2H195.8V980.7H196.4H197.0V974.8H197.6H198.2V979.6H198.8H199.4V979.8H200.0H200.7V980.2H201.3H202.0V979.4H202.7H203.3V979.8H204.0H204.8V976.6H205.5H206.2V975.1H207.0H207.5V971.9H208.0H208.5V971.4H209.0H210.2V960.0H211.5H212.2V953.0H213.0H213.6V952.4H214.2H214.7V952.2H215.3H216.0V954.7H216.7H217.3V956.0H218.0H219.5V968.0H221.0H222.5V980.0H224.0H224.5V984.6H225.0H225.5V987.1H226.0H226.6V984.9H227.2H227.8V987.3H228.4H229.0V981.1H229.6H230.2V986.0H230.8H231.4V986.5H232.0H232.7V986.2H233.3H234.0V986.4H234.7H235.3V986.9H236.0H236.7V984.9H237.3H238.0V984.8H238.7H239.3V984.3H240.0H240.7V986.3H241.3H242.0V989.2H242.7H243.3V990.0H244.0H244.7V992.8H245.3H246.0V993.4H246.7L248.0,993.5H248.7V990.4H249.4H250.1V994.8H250.8H251.5V992.1H252.2H252.9V994.8H253.6H254.3V993.8H255.0H255.6V993.0H256.2H256.9V995.5H257.5H258.1V994.3H258.8H259.4V993.1H260.0H260.6V995.1H261.2H261.8V994.9H262.4H263.0V995.5H263.6H264.2V996.3H264.8H265.4V995.7H266.0H266.6V995.9H267.3H267.9V996.7H268.5H269.2V996.7H269.8H270.4V997.4H271.1H271.7V999.1H272.3H273.0V997.5H273.6H274.2V997.2H274.9H275.5V995.9H276.1H276.7V992.9H277.4H278.0V993.0H278.6H279.2V988.4H279.7H280.3V988.0H280.9H281.4V985.0H282.0L283.0,985.0L283.0,961.0H283.6V962.4H284.2H284.8V961.0H285.4L285.4,936.0H285.9V936.1H286.4H287.0V936.0H287.5L287.5,800.0H288.1V801.1H288.8H289.4V800.0H290.0L290.0,253.0H290.6V254.6H291.2H291.9V253.0H292.5L292.5,95.0L293.2,95.0L293.2,161.0L294.8,161.0L294.8,598.0H295.6V598.7H296.4H297.1V598.0H297.9L297.9,937.0H298.6V937.8H299.2H299.9V937.0H300.6L300.6,988.0H302.3V1002.0H304.0H304.6V999.7H305.2H305.8V1000.1H306.4H307.0V996.1H307.6H308.2V996.0H308.8H309.4V995.3H310.0H310.7V993.9H311.4H312.2V991.7H312.9H313.6V991.1H314.4H315.1V990.0H315.8H316.6V985.9H317.4H318.2V980.1H319.0H319.7V977.4H320.4H321.0V969.8H321.7H322.3V971.4H322.9H323.4V975.1H324.0H325.0V982.9H326.0H326.8V988.4H327.5H328.2V995.3H329.0H329.8V999.7H330.5H331.2V1003.9H332.0H332.6V1000.3H333.2H333.9V999.7H334.5H335.1V997.2H335.8H336.4V997.4H337.0H337.8V994.7H338.5H339.2V992.7H340.0H340.8V998.2H341.5H342.2V998.4H343.0H343.8V1002.2H344.5H345.1V1002.8H345.8H346.4V1003.7H347.1L348.3,1003.7H349.0V1004.3H349.6H350.3V1004.7H351.0H351.6V1004.5H352.3H353.0V1004.3H353.6H354.3V1006.3H355.0H355.6V1004.8H356.3H356.9V1005.4H357.6H358.2V1006.7H358.8H359.5V1005.9H360.1H360.8V1006.0H361.4H362.0V1003.6H362.7H363.3V1003.3H363.9H364.6V1002.0H365.2H365.9V998.5H366.5H367.1V996.3H367.6H368.2V993.5H368.8H369.6V990.2H370.4H371.2V991.0H372.0L372.0,969.5H372.6V967.6H373.1H373.7V969.5H374.3L374.3,832.0H375.0V831.6H375.7H376.4V832.0H377.1L377.1,630.0H377.9V629.8H378.6H379.4V631.0H380.2L380.2,740.0L382.0,740.0L382.0,923.0L383.1,923.0H383.6V923.4H384.2H384.8V923.0H385.3L385.3,1002.0H386.0V1005.6H386.6H387.3V1012.3H388.0H388.7V1013.3H389.4H390.1V1012.4H390.8L392.2,1012.4H392.9V1015.4H393.6H394.3V1013.6H395.0H395.6V1015.3H396.2H396.9V1010.4H397.5H398.1V1014.1H398.8H399.4V1015.4H400.0H400.6V1012.4H401.2H401.8V1018.9H402.4H403.0V1019.9H403.6H404.2V1020.3H404.9H405.5V1019.7H406.2H406.8V1018.4H407.4H408.1V1016.7H408.7H409.4V1016.2H410.0H410.7V1014.4H411.4H412.1V1012.2H412.8H413.5V1013.4H414.2H414.9V1018.3H415.6H416.3V1013.0H417.0H417.6V1011.9H418.2H418.9V1013.0H419.5H420.1V1015.7H420.8H421.4V1016.0H422.0H422.6V1016.8H423.2H423.9V1018.2H424.5H425.1V1019.7H425.8L427.0,1019.7H427.7V1019.5H428.3H429.0V1020.1H429.7H430.3V1021.2H431.0H431.7V1019.0H432.3H433.0V1019.1H433.7H434.3V1016.7H435.0H435.6V1019.3H436.2H436.9V1017.6H437.5H438.1V1019.0H438.8H439.4V1019.1H440.0H440.6V1016.9H441.2H441.9V1016.6H442.5H443.1V1017.3H443.7H444.3V1018.2H444.9H445.5V1019.1H446.1H446.8V1017.7H447.4H448.0V1017.9H448.6H449.2V1017.0H449.8H450.4V1019.1H451.0H451.6V1018.8H452.3H452.9V1020.6H453.6H454.2V1019.8H454.9H455.5V1019.3H456.1H456.8V1019.2H457.4H458.1V1020.2H458.7H459.4V1020.5H460.0H460.6V1019.6H461.2H461.9V1020.2H462.5H463.1V1021.0H463.8L465.0,1021.1H465.6V1020.6H466.2H466.9V1021.6H467.5H468.1V1021.1H468.8H469.4V1020.6H470.0H470.6V1020.0H471.2H471.9V1021.6H472.5H473.1V1017.2H473.8H474.4V1018.9H475.0H475.6V1019.3H476.2L477.5,1019.4H478.1V1021.1H478.8H479.4V1017.8H480.0H480.7V1019.2H481.4H482.1V1017.1H482.8H483.4V1017.3H484.1H484.8V1018.8H485.5H486.2V1016.6H486.9H488.6V1002.2H490.3H491.1V1006.9H492.0H492.6V1010.5H493.1H493.6V1009.5H494.2H494.8V1011.0H495.3H495.9V1012.1H496.6H497.2V1015.4H497.9H498.5V1016.4H499.1H499.8V1018.8H500.4H501.0V1019.5H501.6H502.2V1014.0H502.8H503.4V1018.8H504.0H504.6V1019.4H505.3H505.9V1018.1H506.5H507.1V1018.5H507.7H508.3V1019.6H508.9H509.6V1016.5H510.2H510.9V1017.0H511.5H512.2V1019.1H512.8H513.5V1018.4H514.1H514.8V1019.5H515.5H516.1V1020.2H516.8H517.4V1020.1H518.1H518.7V1019.2H519.4H520.0V1017.4H520.7H521.3V1015.8H522.0H522.6V1015.2H523.2H523.8V1016.5H524.5H525.1V1012.1H525.7H526.4V1008.8H527.1H527.9V1008.6H528.6H529.3V1005.3H530.0H530.6V1008.1H531.2H531.9V1010.2H532.5H533.1V1014.7H533.8H534.4V1016.4H535.0H535.6V1016.7H536.2H536.8V1020.7H537.4H538.0V1023.8H538.6H539.2V1024.8H539.8H540.4V1024.6H541.0H541.7V1024.0H542.3H543.0V1022.6H543.7H544.4V1021.5H545.0H545.7V1022.0H546.4H547.0V1021.6H547.7H548.1V1021.0H548.5L548.5,1004.0H549.1V1003.3H549.8H550.4V1004.0H551.0L551.0,988.0H551.6V989.2H552.2H552.8V988.0H553.4L553.4,952.0H554.0V952.4H554.6H555.3V952.0H555.9L555.9,721.0H556.5V720.9H557.1H557.7V721.0H558.3L558.3,227.0H558.9V206.5H559.5L560.7,206.5L560.7,393.0H561.5V390.0H562.2H563.0V393.0H563.8L563.8,723.6H564.5V723.4H565.1H565.8V723.6H566.5L566.5,959.5H567.3V959.9H568.1H568.9V959.5H569.7L569.7,1012.3H570.3V1013.4H571.0H571.6V1017.8H572.2H572.9V1018.2H573.5H574.2V1018.8H574.8H575.5V1017.9H576.1H576.8V1021.0H577.4H578.0V1016.0H578.7H579.4V1021.1H580.0H580.7V1022.0H581.3H582.0V1022.8H582.7H583.3V1021.7H584.0H584.7V1020.4H585.3H586.0V1022.5H586.7H587.3V1021.9H588.0H588.6V1023.8H589.3H590.0V1023.7H590.6H591.2V1023.1H591.9H592.5V1020.8H593.2H593.9V1022.5H594.5H595.1V1022.5H595.8H596.5V1021.3H597.1H597.8V1023.4H598.4H599.1V1025.9H599.7H600.4V1026.5H601.0H601.7V1025.4H602.4H603.0V1030.2H603.7H604.3V1029.8H605.0H605.6V1032.1H606.2H606.8V1030.4H607.5H608.1V1028.5H608.7H609.3V1030.7H609.9H610.5V1029.6H611.1L612.4,1029.6H613.0V1030.8H613.6H614.2V1029.2H614.9H615.5V1029.9H616.1H616.8V1031.2H617.4H618.0V1029.8H618.7H619.3V1029.1H619.9H620.6V1029.7H621.2H621.8V1028.4H622.5H623.1V1029.1H623.7H624.4V1030.4H625.0H625.7V1030.1H626.3H627.0V1030.3H627.7H628.3V1030.1H629.0H629.7V1030.3H630.3H631.0V1031.3H631.7H632.3V1029.7H633.0H633.7V1031.1H634.3H635.0V1031.0H635.7H636.3V1029.4H637.0H637.6V1030.0H638.2H638.9V1030.2H639.5H640.1V1031.8H640.7H641.4V1030.4H642.0H642.6V1031.5H643.2H643.8V1028.5H644.5H645.1V1029.0H645.7H646.4V1027.6H647.1H647.9V1026.9H648.6H649.3V1023.0H650.0H650.7V1023.5H651.3H652.0V1017.7H652.7H653.3V1020.1H654.0H654.7V1018.6H655.4H656.1V1020.4H656.8H657.5V1017.5H658.2H658.9V1021.7H659.6H660.3V1024.3H661.0H661.6V1023.0H662.3H663.0V1024.5H663.6H664.2V1025.5H664.9H665.5V1025.1H666.2H666.9V1024.6H667.5H668.2V1025.5H668.8H669.5V1026.7H670.1H670.8V1024.8H671.4H672.1V1026.1H672.7H673.3V1025.5H673.9H674.5V1027.8H675.1H675.7V1028.4H676.4H677.0V1026.9H677.6H678.2V1025.6H678.8H679.4V1027.7H680.0H680.7V1028.3H681.4H682.1V1030.2H682.7H683.4V1029.5H684.1H684.8V1030.1H685.5H686.2V1029.9H686.9H687.5V1030.7H688.2H688.9V1030.3H689.6H690.2V1031.3H690.9H691.5V1027.3H692.2H692.9V1032.6H693.5H694.1V1033.4H694.8H695.5V1032.2H696.1H696.8V1033.2H697.4H698.0V1034.5H698.7H699.4V1034.4H700.0L701.3,1034.5H702.0V1034.3H702.6H703.2V1035.6H703.9H704.5V1036.4H705.2H705.9V1035.6H706.5L707.9,1035.6H708.5V1037.2H709.2H709.9V1035.9H710.5H711.2V1034.3H711.9H712.6V1033.7H713.2H713.9V1034.8H714.6H715.3V1034.8H716.0H716.6V1035.0H717.3L718.6,1035.0H719.3V1034.6H720.0H720.6V1033.5H721.2H721.9V1033.8H722.5H723.1V1031.3H723.8H724.4V1032.6H725.0H725.6V1029.5H726.2L727.5,1029.5H728.1V1028.2H728.8H729.4V1026.7H730.0H730.6V1024.5H731.2H731.8V1021.0H732.3H732.9V1020.7H733.5H734.2V1020.9H734.9H735.5V1018.7H736.2H736.9V1016.8H737.6H738.3V1020.1H738.9H739.6V1015.7H740.3H741.0V1018.4H741.6H742.3V1021.7H743.0H743.6V1022.8H744.3H745.0V1028.5H745.7H746.3V1030.0H747.0H747.6V1030.1H748.2H748.9V1032.5H749.5H750.1V1031.7H750.8H751.4V1032.0H752.0H752.6V1031.9H753.2H753.9V1032.4H754.5H755.1V1035.2H755.8H756.4V1034.5H757.0H757.6V1034.3H758.3H758.9V1033.9H759.6H760.2V1034.9H760.9H761.5V1034.7H762.1H762.8V1033.4H763.4H764.1V1032.1H764.7H765.4V1031.3H766.0H766.7V1030.9H767.3H768.0V1031.4H768.6H769.3V1031.7H770.0H770.6V1033.3H771.3H772.0V1035.1H772.7H773.3V1036.1H774.0H774.7V1037.3H775.3H776.0V1035.3H776.7H777.3V1036.8H778.0H778.7V1037.5H779.3H780.0V1035.7H780.7H781.3V1036.8H782.0H782.7V1039.8H783.3H784.0V1035.7H784.7H785.3V1036.5H786.0H786.7V1035.6H787.3H788.0V1033.8H788.7H789.3V1036.8H790.0H790.6V1037.4H791.2H791.9V1035.8H792.5H793.1V1035.4H793.8H794.4V1038.8H795.0H795.6V1036.6H796.2H796.9V1037.0H797.5H798.1V1037.4H798.8H799.4V1038.1H800.0H800.6V1042.8H801.2H801.9V1038.0H802.5H803.1V1037.5H803.8H804.4V1039.0H805.0H805.6V1037.3H806.2H806.9V1036.5H807.5H808.1V1037.6H808.8H809.4V1038.9H810.0H810.7V1037.3H811.4H812.0V1039.7H812.7H813.4V1038.0H814.0H814.7V1038.6H815.4H816.1V1039.1H816.8H817.4V1038.6H818.1H818.8V1037.8H819.5H820.1V1038.1H820.8H821.5V1036.9H822.1H822.8V1038.4H823.5H824.1V1034.7H824.7H825.2V1034.7H825.8H826.4V1030.2H827.0H827.8V1035.0H828.5H829.2V1038.3H830.0H830.6V1038.5H831.3H831.9V1038.4H832.5H833.1V1038.8H833.8H834.4V1039.7H835.0H835.6V1038.6H836.3H836.9V1040.3H837.5H838.2V1040.0H838.8H839.4V1038.6H840.0H840.7V1039.4H841.3H841.9V1040.8H842.5H843.2V1040.5H843.8H844.5V1035.9H845.2H845.9V1031.8H846.6H847.3V1027.3H848.0H848.7V1026.9H849.4H850.1V1025.3H850.8H851.5V1023.3H852.2H853.1V1009.0H854.0H854.6V1007.0H855.2H855.8V1008.0H856.4L856.4,927.0H857.0V926.6H857.5H858.1V927.0H858.7L858.7,748.0H859.6V741.0H860.5L861.4,741.0L861.4,809.0H862.1V808.3H862.8H863.6V809.0H864.3L864.3,882.0H864.9V883.5H865.5H866.2V882.0H866.8L866.8,984.0H867.4V986.3H868.0H868.7V986.0H869.3L869.3,1031.8H870.1V1034.0H870.9H871.7V1034.8H872.5H873.1V1033.7H873.8H874.4V1037.0H875.0H875.6V1034.4H876.2H876.9V1037.1H877.5H878.1V1037.6H878.8H879.4V1037.5H880.0H880.6V1041.4H881.2H881.8V1039.0H882.4H883.0V1040.1H883.6H884.2V1039.6H884.8H885.4V1040.3H886.0H886.6V1038.3H887.3H887.9V1039.9H888.6H889.2V1041.7H889.9H890.5V1040.5H891.1H891.8V1041.3H892.4H893.1V1038.7H893.7H894.4V1039.8H895.0H895.7V1039.3H896.3H897.0V1040.5H897.7H898.3V1040.3H899.0H899.7V1041.1H900.3H901.0V1039.7H901.7H902.3V1040.0H903.0H903.7V1038.6H904.4H905.1V1036.8H905.8H906.5V1036.3H907.2H907.9V1034.3H908.6H909.3V1034.1H910.0L911.4,1034.0H912.0V1030.8H912.6H913.3V1027.9H913.9H914.5V1023.0H915.1H915.8V1021.4H916.4H917.0V1018.4H917.7H918.4V1015.3H919.0H919.7V1016.9H920.3L921.7,1016.9H922.3V1025.2H923.0H923.6V1027.7H924.2H924.8V1031.4H925.4H926.0V1035.8H926.6H927.2V1036.1H927.9H928.5V1039.2H929.1H929.7V1038.6H930.4H931.0V1040.4H931.6H932.3V1040.8H932.9L934.3,1040.7H935.0V1040.3H935.6H936.3V1039.2H937.0H937.6V1038.7H938.3H939.0V1039.0H939.6H940.3V1038.2H941.0H941.7V1036.7H942.3H943.0V1040.0H943.7H944.3V1037.8H945.0H945.6V1039.4H946.2H946.9V1039.1H947.5H948.1V1039.1H948.8L950.0,1039.1H950.6V1036.0H951.2H951.9V1036.6H952.5H953.1V1038.1H953.8H954.4V1036.9H955.0H955.6V1038.1H956.2L957.5,1038.1H958.1V1042.1H958.8H959.4V1036.7H960.0H960.6V1037.0H961.2H961.9V1037.6H962.5H963.1V1039.7H963.8H964.4V1038.4H965.0H965.6V1037.7H966.2H966.9V1036.2H967.5H968.1V1036.9H968.8H969.4V1037.6H970.0H970.6V1036.7H971.2H971.9V1035.9H972.5H973.1V1037.7H973.8H974.4V1037.1H975.0H975.7V1038.7H976.3H977.0V1039.2H977.7H978.3V1038.3H979.0H979.7V1037.6H980.4H981.0V1036.1H981.7H982.4V1032.5H983.0H983.7V1035.8H984.4H985.0V1037.2H985.7H986.3V1033.3H987.0H987.6V1027.6H988.2H988.9V1029.5H989.7H990.4V1028.3H991.1H991.8V1028.6H992.5H993.3V1029.0H994.0H994.6V1030.2H995.2H995.8V1030.7H996.5H997.1V1030.6H997.7H998.3V1032.4H998.9H999.5V1034.5H1000.1H1000.8V1033.4H1001.4H1002.0V1035.0H1002.6H1003.3V1036.0H1003.9H1004.6V1032.5H1005.3H1006.0V1032.2H1006.6H1007.3V1032.6H1008.0H1008.6V1031.0H1009.3H1010.6V1014.9H1011.9H1012.5V1010.8H1013.0H1013.5V1005.8H1014.1H1014.7V1002.2H1015.2H1016.0V1003.9H1016.8L1016.8,940.0H1017.4V941.0H1018.0H1018.7V940.0H1019.3L1019.3,598.0H1019.9V598.4H1020.5H1021.2V598.0H1021.8L1021.8,498.5L1023.4,498.5L1023.4,580.0L1024.4,580.0L1024.4,747.0H1025.0V747.4H1025.5H1026.1V746.0H1026.6H1027.2V747.0H1027.7L1027.7,824.0H1028.3V823.7H1028.8H1029.4V824.0H1030.0L1030.0,995.4H1030.5V995.8H1031.0H1031.6V996.3H1032.1L1032.1,1030.0H1032.8V1032.3H1033.5H1034.2V1034.6H1035.0L1036.4,1034.6H1037.1V1030.5H1037.7H1038.4V1038.1H1039.0H1039.7V1038.6H1040.4H1041.0V1039.2H1041.7H1042.3V1043.3H1043.0H1043.7V1042.1H1044.3H1045.0V1040.8H1045.6H1046.3V1042.2H1046.9H1047.6V1040.3H1048.2H1048.9V1040.7H1049.5H1050.2V1041.6H1050.8H1051.5V1042.5H1052.2H1052.8V1038.4H1053.5H1054.1V1041.0H1054.8H1055.4V1042.2H1056.1H1056.7V1042.5H1057.4H1058.0V1041.7H1058.7H1059.3V1042.0H1060.0H1060.7V1043.1H1061.3H1062.0V1041.5H1062.7H1063.3V1040.3H1064.0H1064.7V1043.2H1065.3H1066.0V1041.9H1066.7H1067.3V1042.3H1068.0H1068.7V1042.5H1069.3H1070.0V1040.7H1070.7H1071.3V1041.7H1072.0H1072.7V1042.6H1073.3H1074.0V1038.1H1074.7H1075.3V1041.4H1076.0H1076.7V1040.6H1077.3H1078.0V1042.0H1078.7H1079.3V1041.6H1080.0H1080.7V1039.7H1081.4H1082.1V1040.4H1082.8H1083.5V1042.5H1084.2H1084.9V1037.1H1085.6H1086.3V1036.2H1087.0H1087.7V1035.3H1088.4H1089.0V1034.4H1089.7H1090.4V1030.9H1091.1H1091.8V1031.6H1092.4H1093.1V1029.3H1093.8H1094.5V1030.6H1095.2L1096.5,1030.5H1097.2V1034.1H1097.9H1098.6V1034.2H1099.3H1099.9V1035.6H1100.6H1101.3V1036.6H1102.0H1102.6V1037.9H1103.2H1103.9V1037.3H1104.5H1105.1V1037.8H1105.8H1106.4V1038.3H1107.0H1107.6V1038.9H1108.2H1108.9V1039.6H1109.5H1110.1V1038.1H1110.8H1111.4V1039.7H1112.0H1112.7V1041.0H1113.3H1114.0V1041.5H1114.6L1115.9,1041.5H1116.6V1044.4H1117.2H1117.9V1041.1H1118.6H1119.2V1040.8H1119.9H1120.5V1043.0H1121.2H1121.8V1042.9H1122.5H1123.1V1041.9H1123.8H1124.4V1043.2H1125.0H1125.6V1041.7H1126.2H1126.9V1040.3H1127.5H1128.1V1040.0H1128.8H1129.4V1039.9H1130.0H1130.6V1039.8H1131.3H1131.9V1040.0H1132.6H1133.2V1037.2H1133.8H1134.5V1037.1H1135.1H1135.8V1039.1H1136.4H1137.1V1037.2H1137.7H1138.3V1034.8H1139.0H1139.6V1028.6H1140.2H1140.9V1028.8H1141.5H1142.2V1025.0H1142.8H1143.4V1010.0H1144.0H1144.7V996.3H1145.3H1146.2V1004.7H1147.0H1147.4V1021.6H1147.8H1148.4V1020.9H1149.1H1149.8V1021.9H1150.4H1151.1V1022.9H1151.7H1152.3V1023.3H1153.0H1153.8V1038.5H1154.6H1155.1V1040.8H1155.7H1156.2V1041.7H1156.8H1157.5V1043.8H1158.1H1158.8V1040.3H1159.5H1160.2V1045.0H1160.8H1161.5V1044.1H1162.2H1162.8V1044.7H1163.5H1164.1V1045.0H1164.8H1165.4V1044.1H1166.0H1166.7V1043.7H1167.3H1167.9V1044.6H1168.6H1169.2V1046.3H1169.8H1170.5V1043.9H1171.1H1171.8V1039.7H1172.4H1173.0V1043.6H1173.7H1174.3V1045.9H1174.9H1175.6V1044.9H1176.2H1176.8V1045.4H1177.5H1178.1V1045.3H1178.7H1179.4V1044.7H1180.0H1180.6V1043.0H1181.3H1181.9V1044.9H1182.6H1183.2V1045.1H1183.9H1184.5V1046.4H1185.2H1185.8V1045.8H1186.5H1187.1V1040.5H1187.8H1188.4V1046.3H1189.1H1189.7V1043.0H1190.3H1191.0V1046.7H1191.6H1192.3V1045.6H1192.9H1193.6V1043.8H1194.2H1194.9V1045.5H1195.5H1196.2V1044.7H1196.8H1197.5V1048.2H1198.1H1198.8V1044.2H1199.4H1200.1V1045.6H1200.7H1201.2V1044.8H1201.8H1202.3V1046.2H1202.9H1203.5V1047.2H1204.0H1204.7V1046.9H1205.3H1206.0V1044.5H1206.6H1207.3V1048.8H1207.9L1209.3,1048.7H1209.9V1048.5H1210.6H1211.2V1048.9H1211.9H1212.5V1048.2H1213.2H1213.9V1049.1H1214.5H1215.2V1048.6H1215.8H1216.5V1045.8H1217.1H1217.8V1047.4H1218.5H1219.1V1048.8H1219.8H1220.4V1049.0H1221.1H1221.7V1048.7H1222.4H1223.1V1047.2H1223.7H1224.4V1047.9H1225.0H1225.7V1049.0H1226.3H1227.0V1048.0H1227.7H1228.3V1049.8H1229.0H1229.6V1047.6H1230.3H1230.9V1049.7H1231.6H1232.3V1050.0H1232.9H1233.6V1046.6H1234.2L1235.5,1046.6H1236.2V1047.6H1236.9H1237.5V1047.9H1238.2H1238.8V1047.7H1239.5H1240.1V1048.3H1240.8H1241.5V1047.4H1242.1H1242.8V1047.6H1243.4H1244.1V1052.8H1244.7H1245.4V1050.9H1246.1H1246.7V1048.7H1247.4H1248.0V1046.5H1248.7H1249.3V1047.7H1250.0H1250.7V1047.2H1251.3L1252.6,1047.1H1253.2V1048.1H1253.9H1254.6V1049.3H1255.2H1255.8V1047.8H1256.5H1257.2V1046.9H1257.8H1258.4V1045.8H1259.1H1259.8V1048.6H1260.4H1261.1V1051.8H1261.7H1262.3V1047.4H1263.0H1263.7V1047.9H1264.3H1264.9V1048.0H1265.6H1266.2V1048.1H1266.9H1267.6V1047.8H1268.2L1269.5,1047.7H1270.2V1049.1H1270.8H1271.4V1047.6H1272.1H1272.8V1047.5H1273.4H1274.1V1047.3H1274.7H1275.3V1050.2H1276.0H1276.7V1048.2H1277.3H1277.9V1048.0H1278.6H1279.2V1046.7H1279.9H1280.6V1045.9H1281.2H1281.8V1047.8H1282.5H1283.2V1048.3H1283.8H1284.4V1048.8H1285.1H1285.8V1045.7H1286.4H1287.1V1046.9H1287.7H1288.3V1047.6H1289.0H1289.7V1046.2H1290.3H1290.9V1047.1H1291.6H1292.2V1048.7H1292.9H1293.6V1046.7H1294.2H1294.8V1048.5H1295.5H1296.2V1046.7H1296.8H1297.4V1047.8H1298.1H1298.8V1047.8H1299.4H1300.1V1048.1H1300.7H1301.3V1048.6H1302.0H1302.8V1044.7H1303.7H1304.3V1041.9H1305.0H1305.6V1040.5H1306.2H1306.8V1040.7H1307.5H1308.1V1038.7H1308.7H1309.3V1037.2H1310.0H1310.6V1036.0H1311.2L1311.2,988.0H1311.8V987.9H1312.5H1313.2V988.0H1313.8L1313.8,904.5H1314.4V904.7H1315.0H1315.6V904.5H1316.2L1316.2,888.4L1317.0,888.4L1317.0,932.0H1317.7V932.5H1318.4H1319.1V932.0H1319.8L1319.8,975.0H1320.4V973.0H1321.0H1321.7V975.0H1322.3L1322.3,1028.6H1323.0V1030.8H1323.7H1324.4V1030.7H1325.1H1325.8V1028.6H1326.5L1326.5,1046.0H1327.2V1045.7H1327.9H1328.6V1045.0H1329.3H1330.0V1048.9H1330.7H1331.4V1048.3H1332.1H1332.7V1049.5H1333.4H1334.1V1048.9H1334.8H1335.5V1050.5H1336.1H1336.8V1052.1H1337.5H1338.2V1049.6H1338.8H1339.4V1052.0H1340.1H1340.8V1052.8H1341.4H1342.1V1051.0H1342.7H1343.3V1051.5H1344.0H1344.7V1052.5H1345.3H1345.9V1053.1H1346.6H1347.2V1054.8H1347.9H1348.6V1051.8H1349.2H1349.8V1052.0H1350.5H1351.2V1050.5H1351.8H1352.4V1053.0H1353.1H1353.8V1052.6H1354.4H1355.1V1052.4H1355.7H1356.3V1050.5H1357.0H1357.6V1047.6H1358.2H1358.9V1041.8H1359.5H1360.1V1040.8H1360.8H1361.4V1039.3H1362.0H1362.6V1038.7H1363.2H1363.9V1037.8H1364.5H1365.1V1034.8H1365.8H1366.4V1029.5H1367.0L1367.0,972.0H1367.7V971.0H1368.3H1368.9V972.0H1369.6L1369.6,838.0H1370.5V835.1H1371.5H1372.1V835.4H1372.7H1373.2V835.5H1373.8L1373.8,930.0H1374.5V930.3H1375.2H1375.8V930.0H1376.5L1376.5,948.0H1377.3V947.5H1378.1H1378.9V948.0H1379.7L1379.7,1022.0H1380.2V1019.1H1380.8H1381.3V1018.6H1381.9H1382.5V1023.6H1383.0L1383.0,1045.5H1383.7V1046.5H1384.4H1385.1V1047.8H1385.8H1386.5V1050.4H1387.1H1387.8V1050.7H1388.5H1389.2V1052.0H1389.9H1390.5V1055.3H1391.2H1391.8V1045.5H1392.5H1393.1V1048.8H1393.7H1394.4V1047.4H1395.0H1395.7V1047.2H1396.4H1397.1V1050.0H1397.8H1398.5V1048.8H1399.2H1399.9V1049.2H1400.6H1401.3V1050.0H1402.0H1402.7V1049.6H1403.4H1404.0V1051.2H1404.7H1405.3V1051.4H1406.0H1406.6V1051.6H1407.2H1407.9V1051.7H1408.5H1409.1V1052.1H1409.8H1410.4V1051.1H1411.1L1412.3,1051.1H1413.0V1052.5H1413.6H1414.3V1053.0H1414.9H1415.5V1052.6H1416.2H1416.8V1054.6H1417.4H1418.1V1053.1H1418.7H1419.4V1054.8H1420.0L1421.3,1054.8H1422.0V1053.4H1422.6H1423.3V1054.0H1423.9L1425.2,1054.1H1425.9V1055.1H1426.5H1427.2V1053.4H1427.8H1428.5V1055.6H1429.2H1429.8V1053.5H1430.5H1431.1V1054.3H1431.8H1432.4V1053.4H1433.1H1433.7V1054.0H1434.4H1435.0V1054.6H1435.7L1437.0,1054.6H1437.7V1053.8H1438.3H1439.0V1053.7H1439.6H1440.3V1054.0H1440.9H1441.6V1054.6H1442.2H1442.9V1053.7H1443.5H1444.2V1054.0H1444.8H1445.5V1053.7H1446.2H1446.8V1054.1H1447.5H1448.1V1050.5H1448.8H1449.4V1053.3H1450.1H1450.7V1053.0H1451.4H1452.0V1055.3H1452.7H1453.3V1054.4H1454.0H1454.6V1053.6H1455.2H1455.8V1054.7H1456.4H1457.0V1054.9H1457.6H1458.2V1056.4H1458.9H1459.5V1056.5H1460.1H1460.7V1057.0H1461.3H1461.9V1057.7H1462.5H1463.2V1057.0H1463.8H1464.5V1061.0H1465.2H1465.9V1057.5H1466.5H1467.2V1057.1H1467.9H1468.6V1057.3H1469.2H1469.9V1056.8H1470.6H1471.2V1055.5H1471.9H1472.6V1056.8H1473.3H1473.9V1056.1H1474.6H1475.3V1056.5H1476.0H1476.6V1055.9H1477.3H1478.0V1056.7H1478.7L1480.0,1056.7L1481.3,1056.7H1482.0V1056.8H1482.7L1484.0,1056.8H1484.7V1057.1H1485.3H1486.0V1056.7H1486.7L1488.0,1056.7H1488.7V1056.3H1489.3H1490.0V1056.0H1490.7H1491.3V1057.2H1492.0H1492.7V1056.6H1493.3H1494.0V1056.5H1494.7H1495.3V1056.7H1496.0H1496.7V1056.5H1497.3H1498.0V1056.7H1498.7H1499.3V1056.6H1500.0H1500.7V1056.6H1501.3H1502.0V1055.9H1502.7H1503.3V1057.5H1504.0H1504.7V1056.4H1505.3H1506.0V1057.2H1506.7L1508.0,1057.2H1508.7V1057.6H1509.3H1510.0V1057.3H1510.7H1511.3V1057.7H1512.0H1512.7V1057.1H1513.3H1514.0V1058.1H1514.7H1515.3V1060.3H1516.0H1516.7V1057.4H1517.3H1518.0V1057.6H1518.7H1519.3V1057.7H1520.0H1520.6V1058.1H1521.3H1521.9V1058.2H1522.6H1523.2V1058.4H1523.9H1524.5V1058.1H1525.2H1525.8V1057.2H1526.5H1527.1V1058.6H1527.7H1528.4V1056.7H1529.0H1529.7V1059.0H1530.3H1531.0V1058.6H1531.6H1532.3V1058.0H1532.9H1533.5V1059.1H1534.2H1534.8V1057.9H1535.5H1536.1V1058.8H1536.8H1537.4V1057.6H1538.1H1538.7V1058.8H1539.4H1540.0V1058.1H1540.6H1541.3V1059.0H1541.9H1542.6V1057.4H1543.2H1543.9V1058.2H1544.5H1545.2V1058.8H1545.8H1546.5V1062.0H1547.1H1547.7V1059.1H1548.4H1549.0V1055.2H1549.7H1550.3V1058.2H1551.0H1551.6V1058.4H1552.3H1552.9V1058.2H1553.5H1554.2V1059.3H1554.8H1555.5V1059.1H1556.1H1556.8V1059.2H1557.4H1558.1V1058.5H1558.7H1559.4V1058.9H1560.0H1560.6V1058.3H1561.3H1561.9V1059.2H1562.6H1563.2V1058.5H1563.9H1564.5V1059.1H1565.2H1565.8V1058.7H1566.5H1567.1V1058.3H1567.7L1569.0,1058.3H1569.7V1059.7H1570.3H1571.0V1059.8H1571.6H1572.3V1058.9H1572.9H1573.5V1059.4H1574.2H1574.8V1059.7H1575.5H1576.1V1059.8H1576.8H1577.4V1059.9H1578.1H1578.7V1058.8H1579.4H1580.0V1059.0H1580.6L1581.9,1059.0H1582.6V1059.6H1583.2H1583.9V1059.9H1584.5H1585.2V1055.9H1585.8H1586.5V1061.0H1587.1H1587.7V1060.3H1588.4H1589.0V1058.5H1589.7H1590.3V1060.3H1591.0H1591.6V1058.3H1592.3H1592.9V1060.1H1593.5H1594.2V1060.3H1594.8H1595.5V1060.6H1596.1H1596.8V1059.9H1597.4H1598.1V1059.2H1598.7H1599.4V1060.5H1600.0H1600.7V1059.9H1601.3H1602.0V1060.2H1602.6H1603.3V1059.7H1603.9H1604.6V1060.4H1605.2L1606.6,1060.3H1607.2V1059.8H1607.9H1608.5V1063.8H1609.2H1609.8V1059.9H1610.5H1611.2V1061.3H1611.8H1612.5V1060.6H1613.1H1613.8V1059.9H1614.4H1615.1V1060.6H1615.8H1616.4V1060.7H1617.1H1617.7V1061.2H1618.4H1619.0V1060.4H1619.7H1620.3V1060.0H1621.0H1621.7V1061.3H1622.3H1623.0V1060.1H1623.6H1624.3V1061.5H1624.9H1625.6V1061.0H1626.2H1626.9V1061.4H1627.6H1628.2V1061.2H1628.9H1629.5V1060.9H1630.2H1630.8V1060.6H1631.5H1632.2V1060.9H1632.8H1633.5V1061.8H1634.1H1634.8V1059.9H1635.4H1636.1V1062.3H1636.8H1637.4V1060.8H1638.1H1638.7V1063.1H1639.4H1640.0V1061.7H1640.7H1641.3V1061.1H1642.0H1642.6V1059.1H1643.2H1643.9V1057.5H1644.5H1645.1V1056.1H1645.8H1646.4V1055.0H1647.0H1648.8V1028.0H1650.5H1651.8V1012.8H1653.0H1653.6V1010.6H1654.1H1654.7V1011.0H1655.3H1655.8V1009.4H1656.4H1656.8V1034.7H1657.2H1658.1V1041.5H1659.0H1660.7V1028.0H1662.3H1662.9V1030.1H1663.4H1664.0V1032.0H1664.6H1665.1V1033.0H1665.7H1667.3V1048.2H1669.0H1669.6V1048.7H1670.2H1670.9V1048.7H1671.5H1672.1V1048.9H1672.8H1673.4V1049.5H1674.0H1674.6V1053.7H1675.2H1675.8V1056.5H1676.3H1676.9V1060.5H1677.5H1678.1V1061.9H1678.7H1679.3V1060.7H1679.9H1680.5V1061.3H1681.1H1681.8V1062.2H1682.4H1683.0V1061.5H1683.6H1684.2V1062.7H1684.8H1685.4V1063.6H1686.0H1686.7V1062.6H1687.3H1688.0V1063.4H1688.6H1689.3V1062.6H1689.9H1690.6V1063.2H1691.2H1691.9V1064.3H1692.6H1693.2V1064.4H1693.9H1694.5V1062.6H1695.2H1695.8V1063.5H1696.5H1697.1V1065.9H1697.8H1698.5V1064.8H1699.1H1699.8V1063.8H1700.4H1701.1V1064.5H1701.7H1702.4V1063.9H1703.0H1703.7V1063.8H1704.4H1705.0V1064.2H1705.7H1706.3V1063.4H1707.0H1707.6V1063.8H1708.3H1708.9V1063.7H1709.6H1710.3V1063.4H1710.9H1711.6V1062.7H1712.2H1712.9V1063.5H1713.5H1714.2V1066.4H1714.8H1715.5V1062.8H1716.2H1716.8V1062.8H1717.5H1718.1V1063.4H1718.8H1719.4V1063.3H1720.1H1720.7V1062.3H1721.4H1722.0V1064.1H1722.7H1723.4V1064.3H1724.0H1724.7V1065.0H1725.3H1726.0V1063.9H1726.6H1727.3V1063.1H1727.9H1728.6V1064.0H1729.3H1729.9V1062.7H1730.6H1731.2V1063.6H1731.9H1732.5V1060.0H1733.2H1733.8V1063.4H1734.5H1735.1V1061.6H1735.8H1736.5V1062.7H1737.1H1737.8V1063.2H1738.4L1739.7,1063.2H1740.4V1062.8H1741.0H1741.7V1063.5H1742.4H1743.0V1065.7H1743.7H1744.3V1063.3H1745.0H1745.6V1063.7H1746.3H1746.9V1063.3H1747.6H1748.3V1063.1H1748.9H1749.6V1063.7H1750.2H1750.9V1067.8H1751.5H1752.2V1063.5H1752.8H1753.5V1064.0H1754.1H1754.8V1060.3H1755.5H1756.1V1063.2H1756.8H1757.4V1062.9H1758.1H1758.7V1063.6H1759.4H1760.0V1064.1H1760.7H1761.4V1063.3H1762.0H1762.7V1063.9H1763.3H1764.0V1064.3H1764.6H1765.3V1063.7H1765.9H1766.6V1064.1H1767.2H1767.9V1063.1H1768.6H1769.2V1062.8H1769.9H1770.5V1062.5H1771.2H1771.8V1063.5H1772.5H1773.1V1064.0H1773.8H1774.7V1054.1H1775.5H1776.1V1052.0H1776.6H1777.2V1048.1H1777.8H1778.3V1046.7H1778.9H1779.5V1049.2H1780.0H1780.6V1053.7H1781.1H1781.7V1056.3H1782.2H1782.8V1056.7H1783.5H1784.1V1056.8H1784.8H1785.4V1057.6H1786.0H1786.7V1058.4H1787.3H1787.9V1060.1H1788.4H1789.0V1062.7H1789.6H1790.1V1065.1H1790.7H1791.2V1065.4H1791.8H1792.3V1066.2H1792.9H1793.5V1065.9H1794.0H1794.7V1066.4H1795.3L1796.6,1066.4H1797.3V1065.7H1797.9H1798.6V1065.3H1799.3H1799.9V1065.6H1800.6H1801.2V1066.0H1801.9H1802.5V1068.0H1803.2H1803.9V1066.2H1804.5H1805.2V1065.9H1805.8H1806.5V1066.1H1807.1H1807.8V1066.7H1808.5H1809.1V1065.8H1809.8H1810.4V1066.0H1811.1H1811.7V1066.8H1812.4H1813.1V1067.2H1813.7H1814.4V1066.6H1815.0H1815.7V1066.4H1816.3H1817.0V1066.0H1817.7H1818.3V1066.4H1819.0H1819.6V1066.8H1820.3H1820.9V1066.3H1821.6H1822.3V1065.4H1822.9H1823.6V1066.1H1824.2H1824.9V1066.3H1825.5H1826.2V1066.4H1826.9H1827.5V1066.3H1828.2H1828.8V1066.5H1829.5H1830.1V1066.2H1830.8H1831.5V1066.3H1832.1H1832.8V1066.1H1833.4H1834.1V1066.9H1834.7H1835.4V1066.3H1836.1H1836.7V1066.5H1837.4H1838.0V1066.2H1838.7H1839.3V1066.7H1840.0H1840.6V1066.9H1841.3H1841.9V1066.6H1842.6H1843.2V1064.4H1843.9H1844.5V1066.1H1845.2H1845.8V1066.0H1846.5H1847.1V1066.4H1847.8H1848.4V1066.6H1849.1H1849.7V1066.7H1850.4H1851.0V1066.9H1851.7L1853.0,1066.9H1853.6V1066.4H1854.3H1854.9V1066.6H1855.6H1856.2V1066.2H1856.9H1857.5V1066.9H1858.2L1859.5,1066.9H1860.1V1066.8H1860.8H1861.4V1066.9H1862.1H1862.7V1066.8H1863.4H1864.0V1066.6H1864.6L1865.9,1066.6H1866.6V1066.1H1867.2H1867.9V1067.2H1868.5H1869.2V1066.8H1869.8H1870.5V1066.2H1871.1H1871.8V1066.9H1872.4H1873.1V1064.2H1873.7H1874.4V1067.3H1875.0H1875.7V1066.3H1876.3H1877.0V1067.2H1877.6H1878.3V1066.7H1878.9H1879.6V1066.9H1880.2H1880.9V1067.2H1881.5H1882.2V1065.8H1882.8H1883.5V1067.1H1884.1H1884.8V1066.5H1885.4H1886.1V1066.6H1886.7H1887.4V1066.9H1888.0H1888.6V1065.1H1889.3H1889.9V1062.5H1890.5H1891.2V1061.2H1891.8H1892.4V1059.7H1893.0H1893.7V1057.7H1894.3H1895.1V1058.1H1895.8H1896.6V1056.5H1897.4H1898.0V1058.0H1898.6H1899.1V1059.4H1899.7H1900.3V1060.6H1900.8H1901.4V1062.6H1902.0H1902.6V1061.7H1903.2H1903.7V1061.3H1904.3H1904.9V1061.2H1905.4H1906.0V1060.8H1906.6H1907.2V1062.0H1907.8H1908.4V1064.1H1908.9H1909.5V1066.8H1910.1H1910.7V1068.3H1911.3H1911.9V1068.6H1912.6H1913.2V1068.7H1913.9H1914.5V1068.2H1915.2H1915.8V1068.7H1916.4H1917.1V1068.8H1917.7H1918.4V1069.4H1919.0H1919.6V1069.5H1920.3H1920.9V1068.7H1921.6H1922.2V1069.3H1922.9H1923.5V1069.2H1924.1L1925.4,1069.2H1926.1V1069.1H1926.7H1927.4V1069.5H1928.0H1928.7V1069.9H1929.3H1929.9V1069.4H1930.6H1931.2V1069.0H1931.9H1932.5V1069.3H1933.2H1933.8V1069.6H1934.4H1935.1V1067.9H1935.7H1936.4V1067.4H1937.0H1937.7V1068.7H1938.3H1938.9V1069.4H1939.6H1940.2V1069.6H1940.9H1941.5V1069.9H1942.2H1942.8V1069.5H1943.4H1944.1V1068.9H1944.7H1945.4V1069.2H1946.0H1946.7V1068.6H1947.3H1947.9V1070.0H1948.6H1949.2V1068.8H1949.9H1950.5V1069.1H1951.2H1951.8V1069.0H1952.5H1953.1V1069.1H1953.7H1954.4V1068.5H1955.0H1955.7V1069.1H1956.3H1957.0V1069.4H1957.6H1958.2V1067.5H1958.8H1959.5V1065.1H1960.1H1960.7V1063.7H1961.3H1961.9V1062.3H1962.6H1963.2V1060.1H1963.8H1964.4V1059.7H1965.0H1965.5V1060.2H1966.1H1966.7V1060.3H1967.2H1967.8V1060.8H1968.4H1969.0V1062.2H1969.7H1970.3V1063.2H1970.9H1971.6V1064.7H1972.2H1972.8V1065.7H1973.5H1974.1V1066.9H1974.7H1975.4V1068.2H1976.0H1976.6V1069.0H1977.2H1977.8V1069.4H1978.4H1979.0V1069.0H1979.6H1980.2V1070.6H1980.8H1981.4V1070.4H1982.0H1982.6V1070.8H1983.3H1983.9V1070.9H1984.6H1985.2V1070.4H1985.9H1986.5V1070.3H1987.1H1987.8V1070.7H1988.4H1989.1V1070.9H1989.7H1990.4V1070.5H1991.0H1991.7V1070.4H1992.3H1992.9V1070.9H1993.6H1994.2V1071.3H1994.9H1995.5V1070.3H1996.2H1996.8V1071.6H1997.4H1998.1V1070.5H1998.7H1999.4V1071.1H2000.0H2000.7V1070.4H2001.3H2002.0V1070.3H2002.6H2003.2V1070.8H2003.9H2004.5V1070.6H2005.2H2005.8V1071.2H2006.5H2007.1V1070.8H2007.7L2009.0,1070.9H2009.7V1070.6H2010.3H2011.0V1070.3H2011.6H2012.2V1069.3H2012.9H2013.5V1071.0H2014.2H2014.8V1070.8H2015.5H2016.1V1071.0H2016.8H2017.4V1070.2H2018.0H2018.7V1071.1H2019.3H2020.0V1070.5H2020.6H2021.3V1070.2H2021.9H2022.5V1070.6H2023.2H2023.8V1070.7H2024.5H2025.1V1070.7H2025.8H2026.4V1071.0H2027.1H2027.7V1070.6H2028.3H2029.0V1070.4H2029.6H2030.3V1070.8H2030.9H2031.6V1070.5H2032.2H2032.8V1071.1H2033.5H2034.1V1070.8H2034.8H2035.4V1071.9H2036.1H2036.7V1070.8H2037.4H2038.0V1070.5H2038.6L2039.9,1070.6H2040.6V1071.2H2041.2H2041.9V1070.7H2042.5H2043.2V1067.9H2043.8H2044.5V1065.8H2045.1H2045.8V1062.6H2046.4H2047.1V1060.2H2047.7H2048.3V1057.8H2049.0H2049.7V1055.3H2050.3H2050.9V1058.4H2051.5H2052.1V1060.6H2052.7H2053.2V1062.2H2053.8H2054.4V1065.5H2055.0H2055.6V1064.4H2056.2H2056.8V1064.4H2057.4H2058.0V1063.9H2058.6H2059.2V1063.2H2059.8L2061.0,1063.2H2061.8V1066.5H2062.5H2063.2V1070.5H2064.0H2064.6V1071.1H2065.3H2065.9V1069.4H2066.6H2067.2V1070.6H2067.9H2068.5V1071.5H2069.2H2069.8V1071.9H2070.5H2071.1V1071.6H2071.8H2072.4V1071.1H2073.1H2073.7V1070.9H2074.4H2075.0V1071.2H2075.7H2076.3V1070.8H2076.9H2077.6V1070.7H2078.2L2079.5,1070.7H2080.2V1071.4H2080.8H2081.5V1071.9H2082.1H2082.8V1071.8H2083.4H2084.1V1071.3H2084.7H2085.4V1071.5H2086.0L2087.3,1071.5" fill="none" stroke="#0a70e2" stroke-width="2.4" stroke-linejoin="miter" stroke-miterlimit="2"/>
<rect x="134.7" y="32.8" width="1954.3" height="1573.8" fill="none" stroke="#000" stroke-width="4.6"/>
<path d="M134.7,1606.6V1578 M460.4,1606.6V1578 M786.1,1606.6V1578 M1111.8,1606.6V1578 M1437.6,1606.6V1578 M1763.3,1606.6V1578 M2089.0,1606.6V1578 M297.6,1606.6V1622 M623.3,1606.6V1622 M949.0,1606.6V1622 M1274.7,1606.6V1622 M1600.4,1606.6V1622 M1926.1,1606.6V1622" stroke="#000" stroke-width="4.6" fill="none"/>
<text class="t" x="134.7" y="1703.3" font-size="82" text-anchor="middle">30</text>
<text class="t" x="460.4" y="1703.3" font-size="82" text-anchor="middle">40</text>
<text class="t" x="786.1" y="1703.3" font-size="82" text-anchor="middle">50</text>
<text class="t" x="1111.8" y="1703.3" font-size="82" text-anchor="middle">60</text>
<text class="t" x="1437.6" y="1703.3" font-size="82" text-anchor="middle">70</text>
<text class="t" x="1763.3" y="1703.3" font-size="82" text-anchor="middle">80</text>
<text class="t" x="2089.0" y="1703.3" font-size="82" text-anchor="middle">90</text>
<text class="t" y="1809" font-size="83"><tspan x="1014.9">2</tspan><tspan x="1058.7">θ</tspan><tspan x="1120.5" font-size="80">(</tspan><tspan x="1145.6" y="1804.6" font-size="76">°</tspan><tspan x="1180.5" y="1809" font-size="80">)</tspan></text>
<text transform="translate(89.7,1085.5) rotate(-90)" font-size="82" style="font-family:'Liberation Serif',serif">Intensity</text>
<text transform="translate(78.5,831.7) rotate(-90) scale(1.5,0.86)" font-size="82" style="font-family:'WenQuanYi Zen Hei',sans-serif">（</text>
<text transform="translate(89.7,716.2) rotate(-90)" font-size="82" style="font-family:'Liberation Serif',serif">CPS</text>
<text transform="translate(77.6,580.2) rotate(-90) scale(1.5,0.89)" font-size="82" style="font-family:'WenQuanYi Zen Hei',sans-serif">）</text>
<text class="t" x="1372.5" y="889.8" font-size="68" fill="#0000ff">as received AT13 particles</text>
<text class="t" x="1485.5" y="1271.8" font-size="68" fill="#ff0000">non-optimized AT13</text>
<text class="t" x="1489" y="1476.8" font-size="68" fill="#000">optimized AT13</text>
<line x1="1837.1" y1="911.7" x2="1878" y2="1030" stroke="#0000ff" stroke-width="2.8"/>
<polygon points="1863.4,1020.5 1883.5,1014.4 1885.8,1056" fill="#0000ff"/>
<text transform="translate(302.95,106.50) scale(0.6875,0.6479)" font-size="100" text-anchor="middle" class="sym">♦</text>
<text transform="translate(381.50,622.00) scale(0.6875,0.6479)" font-size="100" text-anchor="middle" class="sym">♦</text>
<text transform="translate(555.15,187.55) scale(0.6875,0.6479)" font-size="100" text-anchor="middle" class="sym">♦</text>
<text transform="translate(650.80,360.95) scale(0.6985,0.6370)" font-size="100" text-anchor="middle" class="sym">♣</text>
<text transform="translate(863.00,737.70) scale(0.6875,0.6479)" font-size="100" text-anchor="middle" class="sym">♦</text>
<text transform="translate(1020.95,458.65) scale(0.6875,0.6479)" font-size="100" text-anchor="middle" class="sym">♦</text>
<text transform="translate(1315.75,853.55) scale(0.6875,0.6479)" font-size="100" text-anchor="middle" class="sym">♦</text>
<text transform="translate(1384.35,819.35) scale(0.6875,0.6479)" font-size="100" text-anchor="middle" class="sym">♦</text>
<text transform="translate(211.00,918.45) scale(0.5972,0.6027)" font-size="100" text-anchor="middle" class="sym">♥</text>
<text transform="translate(329.75,953.00) scale(0.5972,0.6027)" font-size="100" text-anchor="middle" class="sym">♥</text>
<text transform="translate(924.85,1008.15) scale(0.5972,0.6027)" font-size="100" text-anchor="middle" class="sym">♥</text>
<text transform="translate(1150.95,984.60) scale(0.5972,0.6027)" font-size="100" text-anchor="middle" class="sym">♥</text>
<text transform="translate(1661.00,987.05) scale(0.5972,0.6027)" font-size="100" text-anchor="middle" class="sym">♥</text>
<text transform="translate(451.35,1184.90) scale(0.6985,0.6370)" font-size="100" text-anchor="middle" class="sym">♣</text>
<text transform="translate(706.90,1474.45) scale(0.7500,0.6528)" font-size="100" text-anchor="middle" class="sym">♠</text>
<g class="legend">
<text transform="translate(1500.05,174.35) scale(0.6875,0.6479)" font-size="100" text-anchor="middle" class="sym">♦</text>
<text class="t" font-size="82" x="1534" y="173">–</text>
<text class="t" font-size="82" font-style="italic" transform="translate(1578.4,173.1) scale(1.112,0.9375)">α</text>
<text class="t" font-size="82" font-weight="bold"><tspan x="1629.3" y="175" >-</tspan><tspan x="1655.6" y="174" >Al</tspan><tspan x="1736.7" y="198.3" font-size="57">2</tspan><tspan x="1765" y="174" >O</tspan><tspan x="1828" y="198.3" font-size="57">3</tspan></text>
<text transform="translate(1499.50,292.55) scale(0.6985,0.6370)" font-size="100" text-anchor="middle" class="sym">♣</text>
<text class="t" font-size="82" x="1534" y="291.3">–</text>
<text class="t" font-size="82" font-style="italic" transform="translate(1574.3,291.5) scale(1.11,0.96)">γ</text>
<text class="t" font-size="82" font-weight="bold"><tspan x="1611" y="293.6" >-</tspan><tspan x="1637.4" y="292.6" >Al</tspan><tspan x="1720.5" y="316.9" font-size="57">2</tspan><tspan x="1746.9" y="292.6" >O</tspan><tspan x="1812.7" y="316.5" font-size="57">3</tspan></text>
<text transform="translate(1498.90,408.10) scale(0.5972,0.6027)" font-size="100" text-anchor="middle" class="sym">♥</text>
<text class="t" font-size="82" font-weight="bold"><tspan x="1533.8" y="406.8" font-weight="normal">–</tspan><tspan x="1576.7" y="408.4" >Anatase</tspan><tspan x="1862" y="394.4" font-weight="normal" font-size="70">–</tspan><tspan x="1901.4" y="408.4" >TiO</tspan><tspan x="2039.5" y="433.2" font-size="57">2</tspan></text>
<text transform="translate(1498.90,509.10) scale(0.7500,0.6528)" font-size="100" text-anchor="middle" class="sym">♠</text>
<text class="t" font-size="82" font-weight="bold"><tspan x="1533.8" y="507.6" font-weight="normal">–</tspan><tspan x="1576.2" y="508.5" >Al</tspan><tspan x="1657.2" y="529.8" font-size="57">2</tspan><tspan x="1685.2" y="508.5" >TiO</tspan><tspan x="1827" y="529.8" font-size="57">5</tspan></text>
</g>
</svg></body></html>
